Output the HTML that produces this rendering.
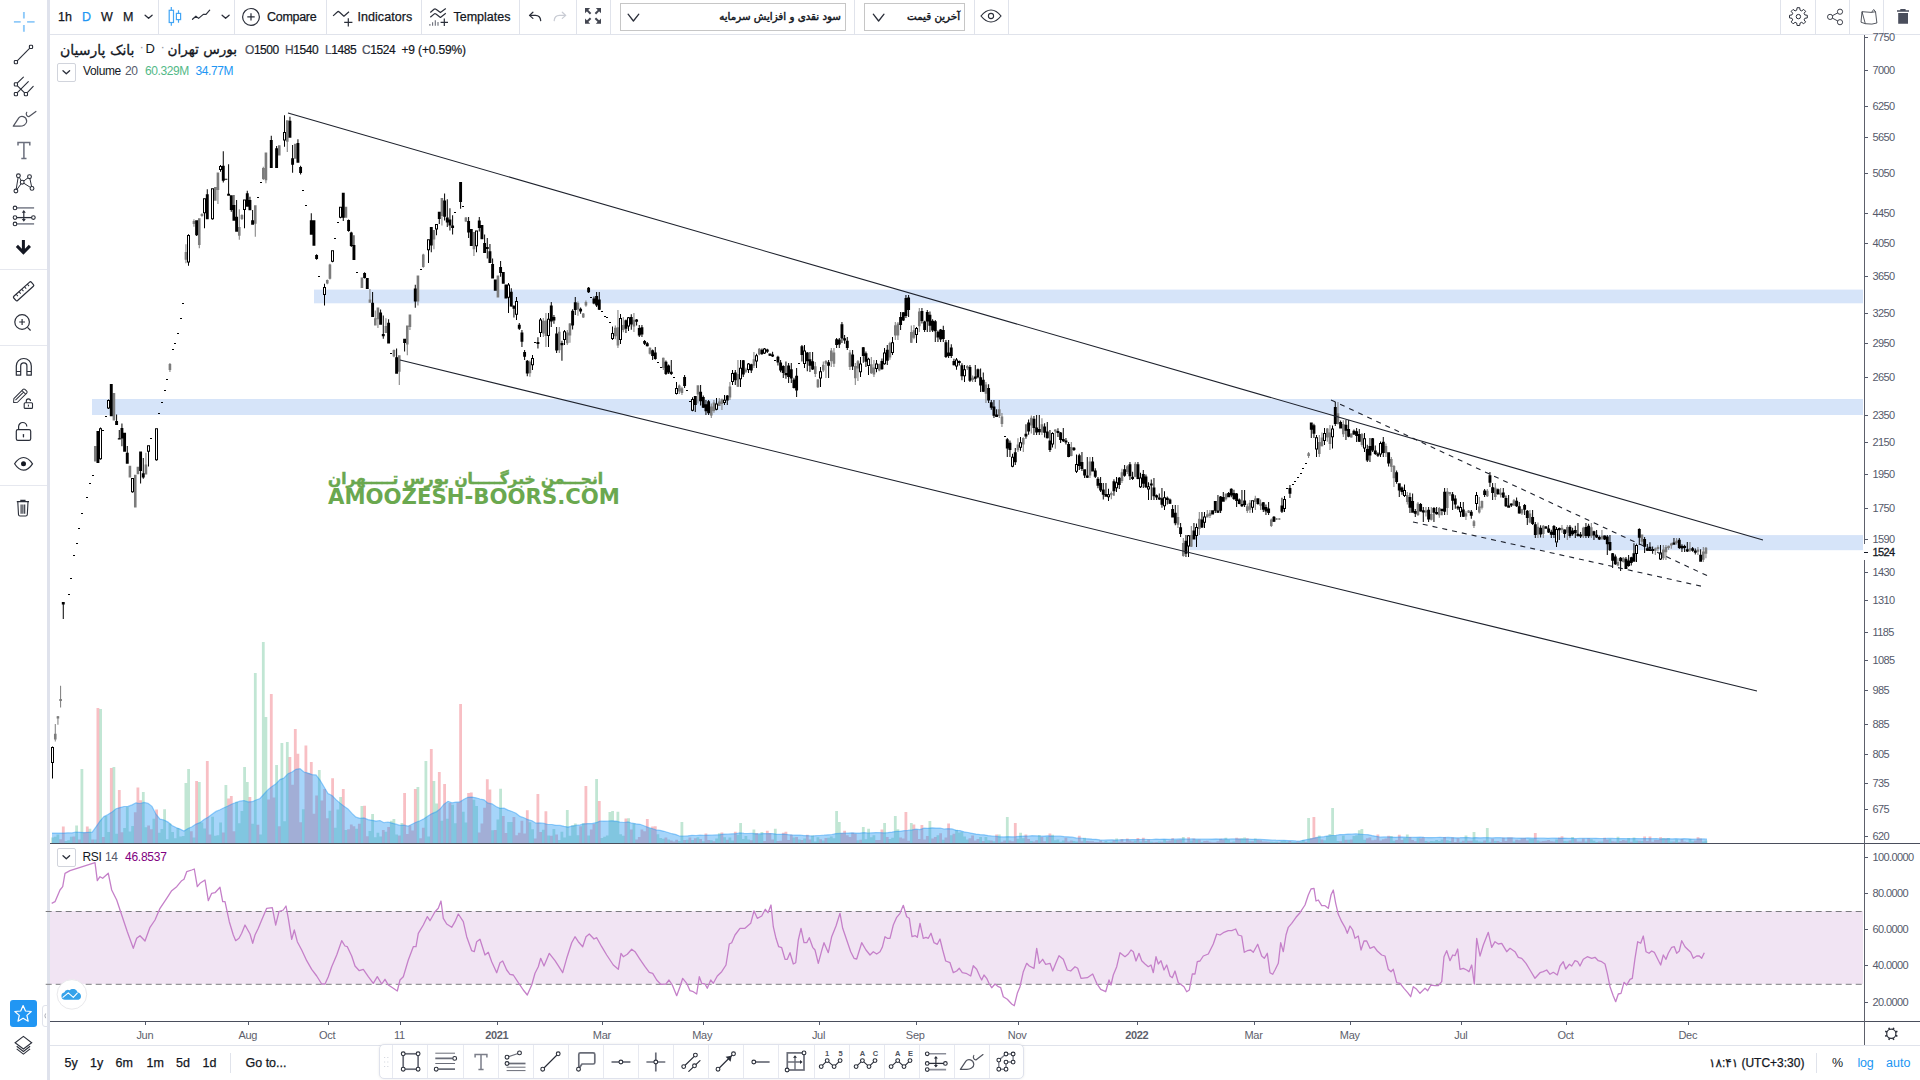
<!DOCTYPE html><html lang="fa"><head><meta charset="utf-8"><title>بانک پارسیان</title><style>
*{box-sizing:border-box;margin:0;padding:0}
html,body{width:1920px;height:1080px;overflow:hidden;background:#fff}
body{font-family:"Liberation Sans","DejaVu Sans",sans-serif;color:#131722;position:relative}
#app{position:absolute;left:0;top:0;width:1920px;height:1080px;overflow:hidden;background:#fff}
.abs{position:absolute}
.t{position:absolute;white-space:nowrap;line-height:1}
.sep{position:absolute;top:0;width:1px;height:34px;background:#e0e3eb}
.tb{font-size:12.5px;top:10.7px;color:#131722;-webkit-text-stroke:0.25px #131722}
.fa{font-family:"DejaVu Sans","Liberation Sans",sans-serif}
svg{position:absolute;left:0;top:0;overflow:visible}
.ic{fill:none;stroke:#2a2e39;stroke-width:1.1;stroke-linecap:round;stroke-linejoin:round}
.ax{font-size:11px;fill:#555a6b;letter-spacing:-0.6px}
.tx{font-size:11px;fill:#5d606b;text-anchor:middle;letter-spacing:-0.3px}
</style></head><body><div id="app">
<div class="abs" style="left:47px;top:0;width:3px;height:1080px;background:#dfe2ec"></div>
<div class="abs" style="left:50px;top:34px;width:1870px;height:1px;background:#e0e3eb"></div>
<div class="abs" style="left:50px;top:1045px;width:1870px;height:1px;background:#e0e3eb"></div>
<div class="sep" style="left:158px"></div>
<div class="sep" style="left:234px"></div>
<div class="sep" style="left:326px"></div>
<div class="sep" style="left:421px"></div>
<div class="sep" style="left:519px"></div>
<div class="sep" style="left:576px"></div>
<div class="sep" style="left:610px"></div>
<div class="sep" style="left:854px"></div>
<div class="sep" style="left:974px"></div>
<div class="sep" style="left:1008px"></div>
<div class="sep" style="left:1780px"></div>
<div class="sep" style="left:1815px"></div>
<div class="sep" style="left:1849px"></div>
<div class="sep" style="left:1883px"></div>
<div class="t tb" style="left:58px;top:10.7px;">1h</div>
<div class="t tb" style="left:82px;top:10.7px;color:#2196f3;-webkit-text-stroke:0.25px #2196f3">D</div>
<div class="t tb" style="left:101px;top:10.7px;">W</div>
<div class="t tb" style="left:123px;top:10.7px;">M</div>
<div class="t tb" style="left:267px;top:10.7px;letter-spacing:-0.3px">Compare</div>
<div class="t tb" style="left:357.5px;top:10.7px;letter-spacing:0.05px">Indicators</div>
<div class="t tb" style="left:453.5px;top:10.7px;letter-spacing:0px">Templates</div>
<div class="abs" style="left:620px;top:3px;width:226px;height:28px;border:1px solid #c6c6c6"></div>
<div class="abs" style="left:864px;top:3px;width:101px;height:28px;border:1px solid #c6c6c6"></div>
<div class="t fa" style="left:0px;top:9px;left:auto;right:1079px;font-size:10.3px;direction:rtl;top:11px;-webkit-text-stroke:0.45px #131722">سود نقدی و افزایش سرمایه</div>
<div class="t fa" style="left:0px;top:9px;left:auto;right:960px;font-size:10.3px;direction:rtl;top:11px;-webkit-text-stroke:0.45px #131722">آخرین قیمت</div>
<div class="t fa" style="left:0px;top:43px;left:60px;font-size:14px;direction:rtl;-webkit-text-stroke:0.3px #131722">بانک پارسیان</div>
<div class="t " style="left:145.5px;top:42px;font-size:13px">D</div>
<div class="t " style="left:139.5px;top:40px;font-size:13px;color:#9598a1">·</div>
<div class="t " style="left:160.5px;top:40px;font-size:13px;color:#9598a1">·</div>
<div class="t fa" style="left:0px;top:43px;left:167.5px;font-size:13.6px;direction:rtl;-webkit-text-stroke:0.3px #131722">بورس تهران</div>
<div class="t " style="left:245px;top:43.7px;font-size:12px;letter-spacing:-0.45px;-webkit-text-stroke:0.2px #131722"><span style="color:#555a6b">O</span>1500</div>
<div class="t " style="left:285px;top:43.7px;font-size:12px;letter-spacing:-0.45px;-webkit-text-stroke:0.2px #131722"><span style="color:#555a6b">H</span>1540</div>
<div class="t " style="left:325px;top:43.7px;font-size:12px;letter-spacing:-0.45px;-webkit-text-stroke:0.2px #131722"><span style="color:#555a6b">L</span>1485</div>
<div class="t " style="left:362px;top:43.7px;font-size:12px;letter-spacing:-0.45px;-webkit-text-stroke:0.2px #131722"><span style="color:#555a6b">C</span>1524</div>
<div class="t " style="left:401.5px;top:43.7px;font-size:12px;letter-spacing:-0.15px;-webkit-text-stroke:0.2px #131722">+9 (+0.59%)</div>
<div class="abs" style="left:57px;top:63px;width:18.5px;height:18.5px;border:1px solid #d1d4dc;border-radius:2px"></div>
<div class="t " style="left:83px;top:65px;font-size:12px;letter-spacing:-0.35px">Volume</div>
<div class="t " style="left:125px;top:65px;font-size:12px;letter-spacing:-0.35px;color:#555a6b">20</div>
<div class="t " style="left:145px;top:65px;font-size:12px;letter-spacing:-0.4px;color:#53b987">60.329M</div>
<div class="t " style="left:195.5px;top:65px;font-size:12px;letter-spacing:-0.4px;color:#2196f3">34.77M</div>
<div class="abs" style="left:57px;top:848px;width:18.5px;height:18.5px;border:1px solid #d1d4dc;border-radius:2px;background:#fff"></div>
<div class="t " style="left:82.5px;top:851px;font-size:12px;letter-spacing:-0.35px">RSI</div>
<div class="t " style="left:105px;top:851px;font-size:12px;letter-spacing:-0.35px;color:#555a6b">14</div>
<div class="t " style="left:125px;top:851px;font-size:12px;letter-spacing:-0.25px;color:#800080">46.8537</div>
<div class="t tb" style="left:64.5px;top:1056px;top:1057.2px">5y</div>
<div class="t tb" style="left:90px;top:1056px;top:1057.2px">1y</div>
<div class="t tb" style="left:115.5px;top:1056px;top:1057.2px">6m</div>
<div class="t tb" style="left:146.5px;top:1056px;top:1057.2px">1m</div>
<div class="t tb" style="left:176px;top:1056px;top:1057.2px">5d</div>
<div class="t tb" style="left:202.5px;top:1056px;top:1057.2px">1d</div>
<div class="t tb" style="left:245.5px;top:1056px;top:1057.2px">Go to...</div>
<div class="abs" style="left:230px;top:1053px;width:1px;height:20px;background:#e0e3eb"></div>
<div class="abs" style="left:1816px;top:1053px;width:1px;height:20px;background:#e0e3eb"></div>
<div class="t tb" style="left:1709px;top:1056px;top:1057.2px;font-size:12px">۱۸:۴۱ (UTC+3:30)</div>
<div class="t tb" style="left:1832px;top:1056px;top:1057.2px;-webkit-text-stroke:0">%</div>
<div class="t tb" style="left:1857.5px;top:1056px;top:1057.2px;color:#2196f3;-webkit-text-stroke:0;letter-spacing:-0.3px">log</div>
<div class="t tb" style="left:1886px;top:1056px;top:1057.2px;color:#2196f3;-webkit-text-stroke:0">auto</div>
<div class="abs" style="left:379px;top:1044px;width:645px;height:35px;border:1px solid #dfe2ec;border-radius:5px;background:#fff;box-shadow:0 0 3px rgba(0,0,0,0.08)"></div>
<div class="abs" style="left:392.3px;top:1045px;width:1px;height:33px;background:#e7e9f0"></div>
<div class="abs" style="left:427.4px;top:1045px;width:1px;height:33px;background:#e7e9f0"></div>
<div class="abs" style="left:462.5px;top:1045px;width:1px;height:33px;background:#e7e9f0"></div>
<div class="abs" style="left:497.6px;top:1045px;width:1px;height:33px;background:#e7e9f0"></div>
<div class="abs" style="left:532.7px;top:1045px;width:1px;height:33px;background:#e7e9f0"></div>
<div class="abs" style="left:567.8px;top:1045px;width:1px;height:33px;background:#e7e9f0"></div>
<div class="abs" style="left:602.9px;top:1045px;width:1px;height:33px;background:#e7e9f0"></div>
<div class="abs" style="left:638.0px;top:1045px;width:1px;height:33px;background:#e7e9f0"></div>
<div class="abs" style="left:673.1px;top:1045px;width:1px;height:33px;background:#e7e9f0"></div>
<div class="abs" style="left:708.2px;top:1045px;width:1px;height:33px;background:#e7e9f0"></div>
<div class="abs" style="left:743.3px;top:1045px;width:1px;height:33px;background:#e7e9f0"></div>
<div class="abs" style="left:778.4px;top:1045px;width:1px;height:33px;background:#e7e9f0"></div>
<div class="abs" style="left:813.5px;top:1045px;width:1px;height:33px;background:#e7e9f0"></div>
<div class="abs" style="left:848.6px;top:1045px;width:1px;height:33px;background:#e7e9f0"></div>
<div class="abs" style="left:883.7px;top:1045px;width:1px;height:33px;background:#e7e9f0"></div>
<div class="abs" style="left:918.8px;top:1045px;width:1px;height:33px;background:#e7e9f0"></div>
<div class="abs" style="left:953.9px;top:1045px;width:1px;height:33px;background:#e7e9f0"></div>
<div class="abs" style="left:989.0px;top:1045px;width:1px;height:33px;background:#e7e9f0"></div>
<div class="abs" style="left:10px;top:1000px;width:27px;height:27px;border-radius:3px;background:#2196f3"></div>
<div class="abs" style="left:42px;top:1005px;width:6px;height:22px;border:1px solid #e0e3eb;border-radius:3px 0 0 3px;background:#fff"></div>
<div class="abs" style="left:0;top:269px;width:47px;height:1px;background:#e6e8ef"></div>
<div class="abs" style="left:0;top:345px;width:47px;height:1px;background:#e6e8ef"></div>
<div class="abs" style="left:0;top:485px;width:47px;height:1px;background:#e6e8ef"></div>
<svg id="chart" width="1920" height="1080" viewBox="0 0 1920 1080" shape-rendering="crispEdges">
<rect x="314" y="289.6" width="1549" height="13.7" fill="#d6e4f9" shape-rendering="auto"/>
<rect x="92" y="399" width="1771" height="16" fill="#d6e4f9"/>
<rect x="1190" y="535.1" width="673" height="15.1" fill="#d6e4f9" shape-rendering="auto"/>
<rect x="50" y="911" width="1813" height="73" fill="#f1e4f3"/>
<g shape-rendering="auto"><path d="M45.7 911.5H1863M45.7 984.3H1863" stroke="#7c7c80" stroke-width="1" stroke-dasharray="6 4" fill="none"/></g>
<g shape-rendering="auto"><path d="M51.2 843h2.8v-5.5h-2.8zM53.9 843h2.8v-6.2h-2.8zM56.5 843h2.8v-8.6h-2.8zM64.5 843h2.8v-1.9h-2.8zM67.2 843h2.8v-2.7h-2.8zM69.9 843h2.8v-6.3h-2.8zM75.2 843h2.8v-17.4h-2.8zM80.5 843h2.8v-74.0h-2.8zM88.5 843h2.8v-14.2h-2.8zM93.9 843h2.8v-3.5h-2.8zM99.2 843h2.8v-134.0h-2.8zM104.5 843h2.8v-27.0h-2.8zM107.2 843h2.8v-11.0h-2.8zM112.5 843h2.8v-76.0h-2.8zM115.2 843h2.8v-9.2h-2.8zM123.2 843h2.8v-14.9h-2.8zM125.9 843h2.8v-36.3h-2.8zM128.5 843h2.8v-11.6h-2.8zM131.2 843h2.8v-16.9h-2.8zM141.9 843h2.8v-50.9h-2.8zM144.5 843h2.8v-15.7h-2.8zM152.5 843h2.8v-24.2h-2.8zM157.9 843h2.8v-10.3h-2.8zM160.5 843h2.8v-13.9h-2.8zM163.2 843h2.8v-33.7h-2.8zM165.9 843h2.8v-3.8h-2.8zM168.5 843h2.8v-19.4h-2.8zM171.2 843h2.8v-11.1h-2.8zM173.9 843h2.8v-4.8h-2.8zM176.5 843h2.8v-14.9h-2.8zM179.2 843h2.8v-6.4h-2.8zM181.9 843h2.8v-6.9h-2.8zM184.5 843h2.8v-60.0h-2.8zM187.2 843h2.8v-74.0h-2.8zM192.5 843h2.8v-5.6h-2.8zM197.9 843h2.8v-61.0h-2.8zM200.5 843h2.8v-20.4h-2.8zM203.2 843h2.8v-14.6h-2.8zM211.2 843h2.8v-26.3h-2.8zM213.9 843h2.8v-7.3h-2.8zM216.5 843h2.8v-7.8h-2.8zM219.2 843h2.8v-20.5h-2.8zM224.5 843h2.8v-58.0h-2.8zM235.2 843h2.8v-41.2h-2.8zM237.9 843h2.8v-19.7h-2.8zM240.5 843h2.8v-31.9h-2.8zM243.2 843h2.8v-76.0h-2.8zM245.9 843h2.8v-60.9h-2.8zM251.2 843h2.8v-19.2h-2.8zM253.9 843h2.8v-170.0h-2.8zM259.2 843h2.8v-8.5h-2.8zM261.9 843h2.8v-201.0h-2.8zM264.5 843h2.8v-126.0h-2.8zM275.2 843h2.8v-78.0h-2.8zM280.5 843h2.8v-100.0h-2.8zM283.2 843h2.8v-21.8h-2.8zM285.9 843h2.8v-101.0h-2.8zM301.9 843h2.8v-33.8h-2.8zM317.9 843h2.8v-73.0h-2.8zM328.5 843h2.8v-32.3h-2.8zM333.9 843h2.8v-15.2h-2.8zM336.5 843h2.8v-33.4h-2.8zM339.2 843h2.8v-46.0h-2.8zM344.5 843h2.8v-13.1h-2.8zM355.2 843h2.8v-14.2h-2.8zM360.5 843h2.8v-37.0h-2.8zM368.5 843h2.8v-12.1h-2.8zM371.2 843h2.8v-28.9h-2.8zM373.9 843h2.8v-5.7h-2.8zM376.5 843h2.8v-10.2h-2.8zM379.2 843h2.8v-6.4h-2.8zM384.5 843h2.8v-11.2h-2.8zM389.9 843h2.8v-22.3h-2.8zM392.5 843h2.8v-24.1h-2.8zM395.2 843h2.8v-8.6h-2.8zM400.5 843h2.8v-20.1h-2.8zM416.5 843h2.8v-56.0h-2.8zM424.5 843h2.8v-82.0h-2.8zM427.2 843h2.8v-6.5h-2.8zM432.5 843h2.8v-62.0h-2.8zM435.2 843h2.8v-39.6h-2.8zM440.5 843h2.8v-22.2h-2.8zM445.9 843h2.8v-24.2h-2.8zM451.2 843h2.8v-38.3h-2.8zM453.9 843h2.8v-19.8h-2.8zM461.9 843h2.8v-31.2h-2.8zM464.5 843h2.8v-20.6h-2.8zM472.5 843h2.8v-43.3h-2.8zM475.2 843h2.8v-36.9h-2.8zM491.2 843h2.8v-12.7h-2.8zM496.5 843h2.8v-23.4h-2.8zM499.2 843h2.8v-54.3h-2.8zM507.2 843h2.8v-20.9h-2.8zM509.9 843h2.8v-21.0h-2.8zM528.5 843h2.8v-20.7h-2.8zM531.2 843h2.8v-13.7h-2.8zM541.9 843h2.8v-13.3h-2.8zM547.2 843h2.8v-7.5h-2.8zM552.5 843h2.8v-14.0h-2.8zM557.9 843h2.8v-3.0h-2.8zM560.5 843h2.8v-11.3h-2.8zM563.2 843h2.8v-5.4h-2.8zM565.9 843h2.8v-33.0h-2.8zM568.5 843h2.8v-7.3h-2.8zM571.2 843h2.8v-17.7h-2.8zM573.9 843h2.8v-19.4h-2.8zM576.5 843h2.8v-7.8h-2.8zM581.9 843h2.8v-19.8h-2.8zM587.2 843h2.8v-7.4h-2.8zM595.2 843h2.8v-64.0h-2.8zM600.5 843h2.8v-5.1h-2.8zM603.2 843h2.8v-6.2h-2.8zM605.9 843h2.8v-7.5h-2.8zM608.5 843h2.8v-31.1h-2.8zM611.2 843h2.8v-32.0h-2.8zM613.9 843h2.8v-22.1h-2.8zM616.5 843h2.8v-31.3h-2.8zM619.2 843h2.8v-8.7h-2.8zM621.9 843h2.8v-7.2h-2.8zM627.2 843h2.8v-24.7h-2.8zM632.5 843h2.8v-19.4h-2.8zM648.5 843h2.8v-14.8h-2.8zM656.5 843h2.8v-8.7h-2.8zM659.2 843h2.8v-5.0h-2.8zM661.9 843h2.8v-4.3h-2.8zM667.2 843h2.8v-3.5h-2.8zM677.9 843h2.8v-1.9h-2.8zM680.5 843h2.8v-21.0h-2.8zM685.9 843h2.8v-3.3h-2.8zM691.2 843h2.8v-2.9h-2.8zM696.5 843h2.8v-5.7h-2.8zM701.9 843h2.8v-1.7h-2.8zM709.9 843h2.8v-2.8h-2.8zM715.2 843h2.8v-4.6h-2.8zM717.9 843h2.8v-9.7h-2.8zM723.2 843h2.8v-5.8h-2.8zM728.5 843h2.8v-5.6h-2.8zM731.2 843h2.8v-2.5h-2.8zM736.5 843h2.8v-8.3h-2.8zM739.2 843h2.8v-20.0h-2.8zM741.9 843h2.8v-3.9h-2.8zM744.5 843h2.8v-6.9h-2.8zM747.2 843h2.8v-3.4h-2.8zM752.5 843h2.8v-13.6h-2.8zM757.9 843h2.8v-8.6h-2.8zM760.5 843h2.8v-11.1h-2.8zM773.9 843h2.8v-14.2h-2.8zM792.5 843h2.8v-5.6h-2.8zM797.9 843h2.8v-3.4h-2.8zM803.2 843h2.8v-4.6h-2.8zM811.2 843h2.8v-7.4h-2.8zM813.9 843h2.8v-1.4h-2.8zM816.5 843h2.8v-5.7h-2.8zM821.9 843h2.8v-2.5h-2.8zM827.2 843h2.8v-5.3h-2.8zM829.9 843h2.8v-6.5h-2.8zM832.5 843h2.8v-4.7h-2.8zM835.2 843h2.8v-32.0h-2.8zM837.9 843h2.8v-21.0h-2.8zM856.5 843h2.8v-2.8h-2.8zM861.9 843h2.8v-16.0h-2.8zM864.5 843h2.8v-3.7h-2.8zM867.2 843h2.8v-14.3h-2.8zM869.9 843h2.8v-5.7h-2.8zM872.5 843h2.8v-7.8h-2.8zM883.2 843h2.8v-20.0h-2.8zM888.5 843h2.8v-4.1h-2.8zM891.2 843h2.8v-5.2h-2.8zM893.9 843h2.8v-27.0h-2.8zM896.5 843h2.8v-13.8h-2.8zM909.9 843h2.8v-20.0h-2.8zM928.5 843h2.8v-22.0h-2.8zM936.5 843h2.8v-7.7h-2.8zM941.9 843h2.8v-3.3h-2.8zM949.9 843h2.8v-7.8h-2.8zM955.2 843h2.8v-13.3h-2.8zM957.9 843h2.8v-10.5h-2.8zM960.5 843h2.8v-11.0h-2.8zM963.2 843h2.8v-6.5h-2.8zM965.9 843h2.8v-3.6h-2.8zM979.2 843h2.8v-5.9h-2.8zM984.5 843h2.8v-6.0h-2.8zM987.2 843h2.8v-2.7h-2.8zM992.5 843h2.8v-1.8h-2.8zM997.9 843h2.8v-8.5h-2.8zM1005.9 843h2.8v-26.0h-2.8zM1016.5 843h2.8v-4.3h-2.8zM1019.2 843h2.8v-10.2h-2.8zM1021.9 843h2.8v-4.8h-2.8zM1029.9 843h2.8v-2.1h-2.8zM1037.9 843h2.8v-7.9h-2.8zM1045.9 843h2.8v-6.0h-2.8zM1051.2 843h2.8v-8.3h-2.8zM1053.9 843h2.8v-2.7h-2.8zM1056.5 843h2.8v-3.5h-2.8zM1059.2 843h2.8v-1.3h-2.8zM1061.9 843h2.8v-2.4h-2.8zM1072.5 843h2.8v-1.9h-2.8zM1075.2 843h2.8v-1.6h-2.8zM1083.2 843h2.8v-5.3h-2.8zM1104.5 843h2.8v-2.1h-2.8zM1107.2 843h2.8v-0.8h-2.8zM1109.9 843h2.8v-1.3h-2.8zM1115.2 843h2.8v-4.6h-2.8zM1133.9 843h2.8v-2.3h-2.8zM1139.2 843h2.8v-1.6h-2.8zM1144.5 843h2.8v-2.1h-2.8zM1149.9 843h2.8v-1.2h-2.8zM1157.9 843h2.8v-1.5h-2.8zM1163.2 843h2.8v-3.2h-2.8zM1173.9 843h2.8v-3.0h-2.8zM1181.9 843h2.8v-5.9h-2.8zM1189.9 843h2.8v-2.6h-2.8zM1195.2 843h2.8v-3.3h-2.8zM1200.5 843h2.8v-0.9h-2.8zM1224.5 843h2.8v-5.3h-2.8zM1227.2 843h2.8v-3.4h-2.8zM1232.5 843h2.8v-1.6h-2.8zM1240.5 843h2.8v-4.8h-2.8zM1243.2 843h2.8v-5.5h-2.8zM1248.5 843h2.8v-1.7h-2.8zM1253.9 843h2.8v-4.6h-2.8zM1269.9 843h2.8v-1.3h-2.8zM1272.5 843h2.8v-0.9h-2.8zM1275.2 843h2.8v-1.2h-2.8zM1280.5 843h2.8v-2.0h-2.8zM1283.2 843h2.8v-2.2h-2.8zM1285.9 843h2.8v-1.5h-2.8zM1291.2 843h2.8v-0.9h-2.8zM1293.9 843h2.8v-1.1h-2.8zM1299.2 843h2.8v-1.4h-2.8zM1301.9 843h2.8v-2.9h-2.8zM1307.2 843h2.8v-25.0h-2.8zM1317.9 843h2.8v-7.5h-2.8zM1323.2 843h2.8v-2.7h-2.8zM1325.9 843h2.8v-7.1h-2.8zM1328.5 843h2.8v-8.9h-2.8zM1331.2 843h2.8v-35.0h-2.8zM1333.9 843h2.8v-7.6h-2.8zM1336.5 843h2.8v-1.9h-2.8zM1341.9 843h2.8v-7.3h-2.8zM1347.2 843h2.8v-3.3h-2.8zM1352.5 843h2.8v-7.0h-2.8zM1355.2 843h2.8v-7.8h-2.8zM1357.9 843h2.8v-12.7h-2.8zM1360.5 843h2.8v-14.0h-2.8zM1363.2 843h2.8v-3.2h-2.8zM1389.9 843h2.8v-7.1h-2.8zM1392.6 843h2.8v-2.3h-2.8zM1403.2 843h2.8v-5.0h-2.8zM1405.9 843h2.8v-8.6h-2.8zM1416.6 843h2.8v-4.9h-2.8zM1424.6 843h2.8v-2.1h-2.8zM1429.9 843h2.8v-2.0h-2.8zM1432.6 843h2.8v-1.7h-2.8zM1435.2 843h2.8v-3.1h-2.8zM1437.9 843h2.8v-2.1h-2.8zM1440.6 843h2.8v-3.6h-2.8zM1445.9 843h2.8v-2.8h-2.8zM1448.6 843h2.8v-2.0h-2.8zM1459.2 843h2.8v-1.2h-2.8zM1464.6 843h2.8v-7.6h-2.8zM1472.6 843h2.8v-11.0h-2.8zM1475.2 843h2.8v-2.6h-2.8zM1477.9 843h2.8v-1.5h-2.8zM1480.6 843h2.8v-1.2h-2.8zM1485.9 843h2.8v-15.0h-2.8zM1488.6 843h2.8v-1.3h-2.8zM1493.9 843h2.8v-2.0h-2.8zM1512.6 843h2.8v-1.5h-2.8zM1528.6 843h2.8v-4.1h-2.8zM1531.2 843h2.8v-4.1h-2.8zM1536.6 843h2.8v-2.5h-2.8zM1555.2 843h2.8v-3.4h-2.8zM1563.2 843h2.8v-2.0h-2.8zM1565.9 843h2.8v-1.7h-2.8zM1571.2 843h2.8v-6.1h-2.8zM1584.6 843h2.8v-1.5h-2.8zM1589.9 843h2.8v-3.8h-2.8zM1592.6 843h2.8v-2.2h-2.8zM1595.2 843h2.8v-1.1h-2.8zM1600.6 843h2.8v-1.4h-2.8zM1608.6 843h2.8v-4.2h-2.8zM1616.6 843h2.8v-6.2h-2.8zM1627.2 843h2.8v-4.9h-2.8zM1632.6 843h2.8v-5.5h-2.8zM1635.2 843h2.8v-2.4h-2.8zM1640.6 843h2.8v-2.0h-2.8zM1661.9 843h2.8v-5.0h-2.8zM1667.2 843h2.8v-5.0h-2.8zM1669.9 843h2.8v-1.6h-2.8zM1675.2 843h2.8v-3.5h-2.8zM1688.6 843h2.8v-4.0h-2.8zM1691.2 843h2.8v-1.4h-2.8zM1701.9 843h2.8v-1.6h-2.8zM1704.6 843h2.8v-2.6h-2.8z" fill="rgba(83,185,135,0.36)"/><path d="M59.2 843h2.8v-3.7h-2.8zM61.9 843h2.8v-16.4h-2.8zM72.5 843h2.8v-6.6h-2.8zM77.9 843h2.8v-3.5h-2.8zM83.2 843h2.8v-10.6h-2.8zM85.9 843h2.8v-16.4h-2.8zM91.2 843h2.8v-3.5h-2.8zM96.5 843h2.8v-135.0h-2.8zM101.9 843h2.8v-5.9h-2.8zM109.9 843h2.8v-75.0h-2.8zM117.9 843h2.8v-53.0h-2.8zM120.5 843h2.8v-10.8h-2.8zM133.9 843h2.8v-30.8h-2.8zM136.5 843h2.8v-55.4h-2.8zM139.2 843h2.8v-42.7h-2.8zM147.2 843h2.8v-17.5h-2.8zM149.9 843h2.8v-13.8h-2.8zM155.2 843h2.8v-33.6h-2.8zM189.9 843h2.8v-11.8h-2.8zM195.2 843h2.8v-62.0h-2.8zM205.9 843h2.8v-82.0h-2.8zM208.5 843h2.8v-8.4h-2.8zM221.9 843h2.8v-10.6h-2.8zM227.2 843h2.8v-44.6h-2.8zM229.9 843h2.8v-47.0h-2.8zM232.5 843h2.8v-11.7h-2.8zM248.5 843h2.8v-45.9h-2.8zM256.5 843h2.8v-18.2h-2.8zM267.2 843h2.8v-43.4h-2.8zM269.9 843h2.8v-149.0h-2.8zM272.5 843h2.8v-45.6h-2.8zM277.9 843h2.8v-16.7h-2.8zM288.5 843h2.8v-86.0h-2.8zM291.2 843h2.8v-58.3h-2.8zM293.9 843h2.8v-114.0h-2.8zM296.5 843h2.8v-89.3h-2.8zM299.2 843h2.8v-20.8h-2.8zM304.5 843h2.8v-97.4h-2.8zM307.2 843h2.8v-69.9h-2.8zM309.9 843h2.8v-81.0h-2.8zM312.5 843h2.8v-29.3h-2.8zM315.2 843h2.8v-47.5h-2.8zM320.5 843h2.8v-42.6h-2.8zM323.2 843h2.8v-54.0h-2.8zM325.9 843h2.8v-24.7h-2.8zM331.2 843h2.8v-64.7h-2.8zM341.9 843h2.8v-54.0h-2.8zM347.2 843h2.8v-13.8h-2.8zM349.9 843h2.8v-18.4h-2.8zM352.5 843h2.8v-16.7h-2.8zM357.9 843h2.8v-19.3h-2.8zM363.2 843h2.8v-37.2h-2.8zM365.9 843h2.8v-6.7h-2.8zM381.9 843h2.8v-12.9h-2.8zM387.2 843h2.8v-16.0h-2.8zM397.9 843h2.8v-7.4h-2.8zM403.2 843h2.8v-50.0h-2.8zM405.9 843h2.8v-9.0h-2.8zM408.5 843h2.8v-17.4h-2.8zM411.2 843h2.8v-12.6h-2.8zM413.9 843h2.8v-54.0h-2.8zM419.2 843h2.8v-4.7h-2.8zM421.9 843h2.8v-15.3h-2.8zM429.9 843h2.8v-94.0h-2.8zM437.9 843h2.8v-71.0h-2.8zM443.2 843h2.8v-59.0h-2.8zM448.5 843h2.8v-40.0h-2.8zM456.5 843h2.8v-40.4h-2.8zM459.2 843h2.8v-139.0h-2.8zM467.2 843h2.8v-50.0h-2.8zM469.9 843h2.8v-50.4h-2.8zM477.9 843h2.8v-10.6h-2.8zM480.5 843h2.8v-19.6h-2.8zM483.2 843h2.8v-35.3h-2.8zM485.9 843h2.8v-63.8h-2.8zM488.5 843h2.8v-53.6h-2.8zM493.9 843h2.8v-12.9h-2.8zM501.9 843h2.8v-27.1h-2.8zM504.5 843h2.8v-10.1h-2.8zM512.5 843h2.8v-25.9h-2.8zM515.2 843h2.8v-7.8h-2.8zM517.9 843h2.8v-10.2h-2.8zM520.5 843h2.8v-22.2h-2.8zM523.2 843h2.8v-9.4h-2.8zM525.9 843h2.8v-32.7h-2.8zM533.9 843h2.8v-4.4h-2.8zM536.5 843h2.8v-49.0h-2.8zM539.2 843h2.8v-11.1h-2.8zM544.5 843h2.8v-31.7h-2.8zM549.9 843h2.8v-7.2h-2.8zM555.2 843h2.8v-8.6h-2.8zM579.2 843h2.8v-16.8h-2.8zM584.5 843h2.8v-57.0h-2.8zM589.9 843h2.8v-13.4h-2.8zM592.5 843h2.8v-19.0h-2.8zM597.9 843h2.8v-42.0h-2.8zM624.5 843h2.8v-24.5h-2.8zM629.9 843h2.8v-13.5h-2.8zM635.2 843h2.8v-3.5h-2.8zM637.9 843h2.8v-6.1h-2.8zM640.5 843h2.8v-13.5h-2.8zM643.2 843h2.8v-11.7h-2.8zM645.9 843h2.8v-24.1h-2.8zM651.2 843h2.8v-16.6h-2.8zM653.9 843h2.8v-16.8h-2.8zM664.5 843h2.8v-5.6h-2.8zM669.9 843h2.8v-2.6h-2.8zM672.5 843h2.8v-1.6h-2.8zM675.2 843h2.8v-3.2h-2.8zM683.2 843h2.8v-2.9h-2.8zM688.5 843h2.8v-5.6h-2.8zM693.9 843h2.8v-4.7h-2.8zM699.2 843h2.8v-4.0h-2.8zM704.5 843h2.8v-9.5h-2.8zM707.2 843h2.8v-2.9h-2.8zM712.5 843h2.8v-1.8h-2.8zM720.5 843h2.8v-10.6h-2.8zM725.9 843h2.8v-3.2h-2.8zM733.9 843h2.8v-11.3h-2.8zM749.9 843h2.8v-2.7h-2.8zM755.2 843h2.8v-9.9h-2.8zM763.2 843h2.8v-2.0h-2.8zM765.9 843h2.8v-12.3h-2.8zM768.5 843h2.8v-10.1h-2.8zM771.2 843h2.8v-3.4h-2.8zM776.5 843h2.8v-2.1h-2.8zM779.2 843h2.8v-2.3h-2.8zM781.9 843h2.8v-10.2h-2.8zM784.5 843h2.8v-11.3h-2.8zM787.2 843h2.8v-3.0h-2.8zM789.9 843h2.8v-8.3h-2.8zM795.2 843h2.8v-5.9h-2.8zM800.5 843h2.8v-3.1h-2.8zM805.9 843h2.8v-8.3h-2.8zM808.5 843h2.8v-3.4h-2.8zM819.2 843h2.8v-3.7h-2.8zM824.5 843h2.8v-4.9h-2.8zM840.5 843h2.8v-10.1h-2.8zM843.2 843h2.8v-12.2h-2.8zM845.9 843h2.8v-7.8h-2.8zM848.5 843h2.8v-6.1h-2.8zM851.2 843h2.8v-10.3h-2.8zM853.9 843h2.8v-9.3h-2.8zM859.2 843h2.8v-3.3h-2.8zM875.2 843h2.8v-3.0h-2.8zM877.9 843h2.8v-3.0h-2.8zM880.5 843h2.8v-13.6h-2.8zM885.9 843h2.8v-5.9h-2.8zM899.2 843h2.8v-5.6h-2.8zM901.9 843h2.8v-4.4h-2.8zM904.5 843h2.8v-31.0h-2.8zM907.2 843h2.8v-2.3h-2.8zM912.5 843h2.8v-18.4h-2.8zM915.2 843h2.8v-13.4h-2.8zM917.9 843h2.8v-4.0h-2.8zM920.5 843h2.8v-18.0h-2.8zM923.2 843h2.8v-3.6h-2.8zM925.9 843h2.8v-7.1h-2.8zM931.2 843h2.8v-4.4h-2.8zM933.9 843h2.8v-6.0h-2.8zM939.2 843h2.8v-9.8h-2.8zM944.5 843h2.8v-5.5h-2.8zM947.2 843h2.8v-19.4h-2.8zM952.5 843h2.8v-9.2h-2.8zM968.5 843h2.8v-4.7h-2.8zM971.2 843h2.8v-7.5h-2.8zM973.9 843h2.8v-2.6h-2.8zM976.5 843h2.8v-3.9h-2.8zM981.9 843h2.8v-2.1h-2.8zM989.9 843h2.8v-2.5h-2.8zM995.2 843h2.8v-8.6h-2.8zM1000.5 843h2.8v-1.3h-2.8zM1003.2 843h2.8v-2.6h-2.8zM1008.5 843h2.8v-2.6h-2.8zM1011.2 843h2.8v-1.8h-2.8zM1013.9 843h2.8v-20.0h-2.8zM1024.5 843h2.8v-8.6h-2.8zM1027.2 843h2.8v-3.9h-2.8zM1032.5 843h2.8v-1.6h-2.8zM1035.2 843h2.8v-2.7h-2.8zM1040.5 843h2.8v-5.9h-2.8zM1043.2 843h2.8v-1.8h-2.8zM1048.5 843h2.8v-9.4h-2.8zM1064.5 843h2.8v-5.2h-2.8zM1067.2 843h2.8v-1.4h-2.8zM1069.9 843h2.8v-2.6h-2.8zM1077.9 843h2.8v-7.2h-2.8zM1080.5 843h2.8v-1.8h-2.8zM1085.9 843h2.8v-2.1h-2.8zM1088.5 843h2.8v-1.7h-2.8zM1091.2 843h2.8v-1.8h-2.8zM1093.9 843h2.8v-0.9h-2.8zM1096.5 843h2.8v-1.1h-2.8zM1099.2 843h2.8v-2.5h-2.8zM1101.9 843h2.8v-0.8h-2.8zM1112.5 843h2.8v-2.7h-2.8zM1117.9 843h2.8v-1.5h-2.8zM1120.5 843h2.8v-3.9h-2.8zM1123.2 843h2.8v-1.0h-2.8zM1125.9 843h2.8v-4.6h-2.8zM1128.5 843h2.8v-2.6h-2.8zM1131.2 843h2.8v-1.4h-2.8zM1136.5 843h2.8v-4.9h-2.8zM1141.9 843h2.8v-5.3h-2.8zM1147.2 843h2.8v-3.5h-2.8zM1152.5 843h2.8v-0.8h-2.8zM1155.2 843h2.8v-1.0h-2.8zM1160.5 843h2.8v-1.3h-2.8zM1165.9 843h2.8v-1.8h-2.8zM1168.5 843h2.8v-2.5h-2.8zM1171.2 843h2.8v-4.7h-2.8zM1176.5 843h2.8v-3.2h-2.8zM1179.2 843h2.8v-3.4h-2.8zM1184.5 843h2.8v-0.8h-2.8zM1187.2 843h2.8v-5.7h-2.8zM1192.5 843h2.8v-4.6h-2.8zM1197.9 843h2.8v-3.6h-2.8zM1203.2 843h2.8v-1.9h-2.8zM1205.9 843h2.8v-2.3h-2.8zM1208.5 843h2.8v-1.3h-2.8zM1211.2 843h2.8v-0.8h-2.8zM1213.9 843h2.8v-0.8h-2.8zM1216.5 843h2.8v-1.7h-2.8zM1219.2 843h2.8v-4.3h-2.8zM1221.9 843h2.8v-3.4h-2.8zM1229.9 843h2.8v-0.8h-2.8zM1235.2 843h2.8v-5.2h-2.8zM1237.9 843h2.8v-4.5h-2.8zM1245.9 843h2.8v-4.7h-2.8zM1251.2 843h2.8v-1.8h-2.8zM1256.5 843h2.8v-3.2h-2.8zM1259.2 843h2.8v-2.7h-2.8zM1261.9 843h2.8v-1.4h-2.8zM1264.5 843h2.8v-1.4h-2.8zM1267.2 843h2.8v-1.3h-2.8zM1277.9 843h2.8v-0.8h-2.8zM1288.5 843h2.8v-2.0h-2.8zM1296.5 843h2.8v-1.5h-2.8zM1304.5 843h2.8v-1.3h-2.8zM1309.9 843h2.8v-5.1h-2.8zM1312.5 843h2.8v-26.0h-2.8zM1315.2 843h2.8v-5.7h-2.8zM1320.5 843h2.8v-3.4h-2.8zM1339.2 843h2.8v-1.8h-2.8zM1344.5 843h2.8v-3.2h-2.8zM1349.9 843h2.8v-3.4h-2.8zM1365.9 843h2.8v-4.8h-2.8zM1368.5 843h2.8v-5.5h-2.8zM1371.2 843h2.8v-2.7h-2.8zM1373.9 843h2.8v-3.2h-2.8zM1376.5 843h2.8v-8.5h-2.8zM1379.2 843h2.8v-2.5h-2.8zM1381.9 843h2.8v-3.8h-2.8zM1384.5 843h2.8v-4.6h-2.8zM1387.2 843h2.8v-7.2h-2.8zM1395.2 843h2.8v-3.0h-2.8zM1397.9 843h2.8v-8.2h-2.8zM1400.6 843h2.8v-3.0h-2.8zM1408.6 843h2.8v-5.9h-2.8zM1411.2 843h2.8v-3.0h-2.8zM1413.9 843h2.8v-1.7h-2.8zM1419.2 843h2.8v-4.7h-2.8zM1421.9 843h2.8v-5.7h-2.8zM1427.2 843h2.8v-1.3h-2.8zM1443.2 843h2.8v-6.0h-2.8zM1451.2 843h2.8v-5.5h-2.8zM1453.9 843h2.8v-1.0h-2.8zM1456.6 843h2.8v-4.8h-2.8zM1461.9 843h2.8v-2.2h-2.8zM1467.2 843h2.8v-2.2h-2.8zM1469.9 843h2.8v-2.3h-2.8zM1483.2 843h2.8v-2.6h-2.8zM1491.2 843h2.8v-4.3h-2.8zM1496.6 843h2.8v-2.0h-2.8zM1499.2 843h2.8v-0.9h-2.8zM1501.9 843h2.8v-5.3h-2.8zM1504.6 843h2.8v-2.1h-2.8zM1507.2 843h2.8v-5.5h-2.8zM1509.9 843h2.8v-5.5h-2.8zM1515.2 843h2.8v-3.3h-2.8zM1517.9 843h2.8v-2.8h-2.8zM1520.6 843h2.8v-4.8h-2.8zM1523.2 843h2.8v-5.1h-2.8zM1525.9 843h2.8v-2.5h-2.8zM1533.9 843h2.8v-10.0h-2.8zM1539.2 843h2.8v-1.5h-2.8zM1541.9 843h2.8v-1.9h-2.8zM1544.6 843h2.8v-2.3h-2.8zM1547.2 843h2.8v-3.0h-2.8zM1549.9 843h2.8v-1.7h-2.8zM1552.6 843h2.8v-1.4h-2.8zM1557.9 843h2.8v-5.4h-2.8zM1560.6 843h2.8v-6.8h-2.8zM1568.6 843h2.8v-2.5h-2.8zM1573.9 843h2.8v-4.1h-2.8zM1576.6 843h2.8v-1.5h-2.8zM1579.2 843h2.8v-1.5h-2.8zM1581.9 843h2.8v-4.6h-2.8zM1587.2 843h2.8v-4.7h-2.8zM1597.9 843h2.8v-1.5h-2.8zM1603.2 843h2.8v-5.2h-2.8zM1605.9 843h2.8v-3.4h-2.8zM1611.2 843h2.8v-1.7h-2.8zM1613.9 843h2.8v-1.5h-2.8zM1619.2 843h2.8v-2.0h-2.8zM1621.9 843h2.8v-3.1h-2.8zM1624.6 843h2.8v-2.6h-2.8zM1629.9 843h2.8v-1.3h-2.8zM1637.9 843h2.8v-2.2h-2.8zM1643.2 843h2.8v-6.4h-2.8zM1645.9 843h2.8v-2.0h-2.8zM1648.6 843h2.8v-6.5h-2.8zM1651.2 843h2.8v-1.2h-2.8zM1653.9 843h2.8v-3.3h-2.8zM1656.6 843h2.8v-3.1h-2.8zM1659.2 843h2.8v-5.7h-2.8zM1664.6 843h2.8v-4.5h-2.8zM1672.6 843h2.8v-1.6h-2.8zM1677.9 843h2.8v-0.9h-2.8zM1680.6 843h2.8v-4.1h-2.8zM1683.2 843h2.8v-1.5h-2.8zM1685.9 843h2.8v-1.0h-2.8zM1693.9 843h2.8v-2.5h-2.8zM1696.6 843h2.8v-5.8h-2.8zM1699.2 843h2.8v-4.5h-2.8z" fill="rgba(235,77,92,0.36)"/><path d="M52.0 833.1 L56.0 833.1 L60.0 833.0 L64.0 833.1 L68.0 832.8 L72.0 832.9 L76.0 832.0 L80.0 832.3 L84.0 832.6 L88.0 832.3 L92.0 832.4 L96.0 826.8 L100.0 821.1 L104.0 816.4 L108.0 814.5 L112.0 812.1 L116.0 808.8 L120.0 807.6 L124.0 806.5 L128.0 806.4 L132.0 804.9 L136.0 802.8 L140.0 803.5 L144.0 802.4 L148.0 803.2 L152.0 806.4 L156.0 814.2 L160.0 819.1 L164.0 820.0 L168.0 822.1 L172.0 825.5 L176.0 827.5 L180.0 829.1 L184.0 831.0 L188.0 828.5 L192.0 826.7 L196.0 824.1 L200.0 822.6 L204.0 819.5 L208.0 817.2 L212.0 814.3 L216.0 811.4 L220.0 809.8 L224.0 807.8 L228.0 806.0 L232.0 804.0 L236.0 802.5 L240.0 801.2 L244.0 800.5 L248.0 801.9 L252.0 801.7 L256.0 800.0 L260.0 798.5 L264.0 794.0 L268.0 789.7 L272.0 786.4 L276.0 783.7 L280.0 779.6 L284.0 778.0 L288.0 773.7 L292.0 772.0 L296.0 769.3 L300.0 768.7 L304.0 772.0 L308.0 773.1 L312.0 774.6 L316.0 774.9 L320.0 780.1 L324.0 786.7 L328.0 793.5 L332.0 795.5 L336.0 799.6 L340.0 803.1 L344.0 806.3 L348.0 808.9 L352.0 813.4 L356.0 817.2 L360.0 818.3 L364.0 817.9 L368.0 819.6 L372.0 820.3 L376.0 821.1 L380.0 820.5 L384.0 822.7 L388.0 822.0 L392.0 823.1 L396.0 824.2 L400.0 825.4 L404.0 825.2 L408.0 826.2 L412.0 824.2 L416.0 822.3 L420.0 820.8 L424.0 818.8 L428.0 816.1 L432.0 813.6 L436.0 811.9 L440.0 809.1 L444.0 804.2 L448.0 801.3 L452.0 802.8 L456.0 802.1 L460.0 801.8 L464.0 799.2 L468.0 797.3 L472.0 797.1 L476.0 797.8 L480.0 799.0 L484.0 799.8 L488.0 803.2 L492.0 803.8 L496.0 806.5 L500.0 808.3 L504.0 808.2 L508.0 810.1 L512.0 811.5 L516.0 813.3 L520.0 816.4 L524.0 817.7 L528.0 819.7 L532.0 820.7 L536.0 823.2 L540.0 822.9 L544.0 823.4 L548.0 824.5 L552.0 824.5 L556.0 825.3 L560.0 825.4 L564.0 826.3 L568.0 827.1 L572.0 826.2 L576.0 825.4 L580.0 824.9 L584.0 823.9 L588.0 823.6 L592.0 823.6 L596.0 822.7 L600.0 821.2 L604.0 821.1 L608.0 821.0 L612.0 820.8 L616.0 821.2 L620.0 822.2 L624.0 822.5 L628.0 821.9 L632.0 823.2 L636.0 823.8 L640.0 824.3 L644.0 825.8 L648.0 827.4 L652.0 828.5 L656.0 829.9 L660.0 830.3 L664.0 831.3 L668.0 832.5 L672.0 833.7 L676.0 834.6 L680.0 836.2 L684.0 836.0 L688.0 835.8 L692.0 835.3 L696.0 835.5 L700.0 835.2 L704.0 835.4 L708.0 835.1 L712.0 835.2 L716.0 834.9 L720.0 834.7 L724.0 834.1 L728.0 834.0 L732.0 833.8 L736.0 833.6 L740.0 832.9 L744.0 833.4 L748.0 833.5 L752.0 833.4 L756.0 833.8 L760.0 833.8 L764.0 833.6 L768.0 833.7 L772.0 833.6 L776.0 834.1 L780.0 834.3 L784.0 834.2 L788.0 834.6 L792.0 834.9 L796.0 835.1 L800.0 835.0 L804.0 835.6 L808.0 835.7 L812.0 836.0 L816.0 835.7 L820.0 835.5 L824.0 835.2 L828.0 834.8 L832.0 834.5 L836.0 833.6 L840.0 833.4 L844.0 833.2 L848.0 833.1 L852.0 832.8 L856.0 833.1 L860.0 833.1 L864.0 832.6 L868.0 833.0 L872.0 832.8 L876.0 832.6 L880.0 832.7 L884.0 832.9 L888.0 832.6 L892.0 832.1 L896.0 831.4 L900.0 831.3 L904.0 830.7 L908.0 830.4 L912.0 829.9 L916.0 829.2 L920.0 829.6 L924.0 828.2 L928.0 828.3 L932.0 827.8 L936.0 828.1 L940.0 828.0 L944.0 829.0 L948.0 828.7 L952.0 828.9 L956.0 830.3 L960.0 830.6 L964.0 831.8 L968.0 832.5 L972.0 833.3 L976.0 834.1 L980.0 834.6 L984.0 834.8 L988.0 835.6 L992.0 836.0 L996.0 836.4 L1000.0 836.8 L1004.0 836.9 L1008.0 836.7 L1012.0 836.8 L1016.0 836.7 L1020.0 836.3 L1024.0 836.0 L1028.0 836.2 L1032.0 835.7 L1036.0 835.8 L1040.0 836.0 L1044.0 836.1 L1048.0 835.8 L1052.0 836.1 L1056.0 836.2 L1060.0 836.2 L1064.0 836.6 L1068.0 836.8 L1072.0 837.2 L1076.0 837.9 L1080.0 838.0 L1084.0 838.5 L1088.0 838.8 L1092.0 839.1 L1096.0 839.3 L1100.0 839.9 L1104.0 840.0 L1108.0 839.9 L1112.0 839.8 L1116.0 840.0 L1120.0 839.8 L1124.0 839.7 L1128.0 839.7 L1132.0 839.5 L1136.0 839.6 L1140.0 839.5 L1144.0 839.4 L1148.0 839.5 L1152.0 839.5 L1156.0 839.2 L1160.0 839.3 L1164.0 839.1 L1168.0 839.3 L1172.0 839.2 L1176.0 839.0 L1180.0 838.9 L1184.0 838.9 L1188.0 839.2 L1192.0 838.9 L1196.0 839.0 L1200.0 839.0 L1204.0 839.0 L1208.0 839.0 L1212.0 839.1 L1216.0 838.9 L1220.0 839.1 L1224.0 838.9 L1228.0 839.0 L1232.0 838.9 L1236.0 838.9 L1240.0 839.0 L1244.0 839.0 L1248.0 839.0 L1252.0 839.3 L1256.0 839.4 L1260.0 839.4 L1264.0 839.6 L1268.0 839.8 L1272.0 840.0 L1276.0 840.2 L1280.0 840.3 L1284.0 840.3 L1288.0 840.6 L1292.0 840.7 L1296.0 840.9 L1300.0 841.0 L1304.0 840.2 L1308.0 839.4 L1312.0 838.7 L1316.0 837.7 L1320.0 836.9 L1324.0 836.7 L1328.0 835.9 L1332.0 835.5 L1336.0 835.4 L1340.0 834.5 L1344.0 834.6 L1348.0 834.1 L1352.0 834.0 L1356.0 833.8 L1360.0 834.2 L1364.0 834.5 L1368.0 834.7 L1372.0 835.6 L1376.0 836.3 L1380.0 837.0 L1384.0 836.9 L1388.0 836.9 L1392.0 837.1 L1396.0 837.3 L1400.0 836.9 L1404.0 837.1 L1408.0 837.4 L1412.0 837.4 L1416.0 837.3 L1420.0 837.1 L1424.0 837.4 L1428.0 837.6 L1432.0 837.6 L1436.0 837.5 L1440.0 837.3 L1444.0 837.6 L1448.0 837.4 L1452.0 837.6 L1456.0 837.8 L1460.0 837.7 L1464.0 837.5 L1468.0 837.6 L1472.0 837.9 L1476.0 837.6 L1480.0 837.8 L1484.0 837.7 L1488.0 837.7 L1492.0 837.9 L1496.0 837.7 L1500.0 837.7 L1504.0 837.9 L1508.0 837.8 L1512.0 837.8 L1516.0 838.0 L1520.0 838.1 L1524.0 838.2 L1528.0 837.9 L1532.0 838.1 L1536.0 838.0 L1540.0 838.2 L1544.0 838.2 L1548.0 838.3 L1552.0 838.2 L1556.0 838.1 L1560.0 838.3 L1564.0 838.1 L1568.0 838.3 L1572.0 838.3 L1576.0 838.5 L1580.0 838.4 L1584.0 838.4 L1588.0 838.3 L1592.0 838.4 L1596.0 838.3 L1600.0 838.5 L1604.0 838.5 L1608.0 838.4 L1612.0 838.4 L1616.0 838.5 L1620.0 838.6 L1624.0 838.5 L1628.0 838.7 L1632.0 838.7 L1636.0 838.5 L1640.0 838.7 L1644.0 838.5 L1648.0 838.6 L1652.0 838.7 L1656.0 838.6 L1660.0 838.9 L1664.0 838.8 L1668.0 838.7 L1672.0 838.9 L1676.0 838.7 L1680.0 838.9 L1684.0 838.7 L1688.0 838.8 L1692.0 839.1 L1696.0 839.0 L1700.0 838.9 L1704.0 838.9 L1707.0 839.0 L1707 843 L52 843 Z" fill="rgba(33,150,243,0.4)"/><path d="M52.0 833.1 L56.0 833.1 L60.0 833.0 L64.0 833.1 L68.0 832.8 L72.0 832.9 L76.0 832.0 L80.0 832.3 L84.0 832.6 L88.0 832.3 L92.0 832.4 L96.0 826.8 L100.0 821.1 L104.0 816.4 L108.0 814.5 L112.0 812.1 L116.0 808.8 L120.0 807.6 L124.0 806.5 L128.0 806.4 L132.0 804.9 L136.0 802.8 L140.0 803.5 L144.0 802.4 L148.0 803.2 L152.0 806.4 L156.0 814.2 L160.0 819.1 L164.0 820.0 L168.0 822.1 L172.0 825.5 L176.0 827.5 L180.0 829.1 L184.0 831.0 L188.0 828.5 L192.0 826.7 L196.0 824.1 L200.0 822.6 L204.0 819.5 L208.0 817.2 L212.0 814.3 L216.0 811.4 L220.0 809.8 L224.0 807.8 L228.0 806.0 L232.0 804.0 L236.0 802.5 L240.0 801.2 L244.0 800.5 L248.0 801.9 L252.0 801.7 L256.0 800.0 L260.0 798.5 L264.0 794.0 L268.0 789.7 L272.0 786.4 L276.0 783.7 L280.0 779.6 L284.0 778.0 L288.0 773.7 L292.0 772.0 L296.0 769.3 L300.0 768.7 L304.0 772.0 L308.0 773.1 L312.0 774.6 L316.0 774.9 L320.0 780.1 L324.0 786.7 L328.0 793.5 L332.0 795.5 L336.0 799.6 L340.0 803.1 L344.0 806.3 L348.0 808.9 L352.0 813.4 L356.0 817.2 L360.0 818.3 L364.0 817.9 L368.0 819.6 L372.0 820.3 L376.0 821.1 L380.0 820.5 L384.0 822.7 L388.0 822.0 L392.0 823.1 L396.0 824.2 L400.0 825.4 L404.0 825.2 L408.0 826.2 L412.0 824.2 L416.0 822.3 L420.0 820.8 L424.0 818.8 L428.0 816.1 L432.0 813.6 L436.0 811.9 L440.0 809.1 L444.0 804.2 L448.0 801.3 L452.0 802.8 L456.0 802.1 L460.0 801.8 L464.0 799.2 L468.0 797.3 L472.0 797.1 L476.0 797.8 L480.0 799.0 L484.0 799.8 L488.0 803.2 L492.0 803.8 L496.0 806.5 L500.0 808.3 L504.0 808.2 L508.0 810.1 L512.0 811.5 L516.0 813.3 L520.0 816.4 L524.0 817.7 L528.0 819.7 L532.0 820.7 L536.0 823.2 L540.0 822.9 L544.0 823.4 L548.0 824.5 L552.0 824.5 L556.0 825.3 L560.0 825.4 L564.0 826.3 L568.0 827.1 L572.0 826.2 L576.0 825.4 L580.0 824.9 L584.0 823.9 L588.0 823.6 L592.0 823.6 L596.0 822.7 L600.0 821.2 L604.0 821.1 L608.0 821.0 L612.0 820.8 L616.0 821.2 L620.0 822.2 L624.0 822.5 L628.0 821.9 L632.0 823.2 L636.0 823.8 L640.0 824.3 L644.0 825.8 L648.0 827.4 L652.0 828.5 L656.0 829.9 L660.0 830.3 L664.0 831.3 L668.0 832.5 L672.0 833.7 L676.0 834.6 L680.0 836.2 L684.0 836.0 L688.0 835.8 L692.0 835.3 L696.0 835.5 L700.0 835.2 L704.0 835.4 L708.0 835.1 L712.0 835.2 L716.0 834.9 L720.0 834.7 L724.0 834.1 L728.0 834.0 L732.0 833.8 L736.0 833.6 L740.0 832.9 L744.0 833.4 L748.0 833.5 L752.0 833.4 L756.0 833.8 L760.0 833.8 L764.0 833.6 L768.0 833.7 L772.0 833.6 L776.0 834.1 L780.0 834.3 L784.0 834.2 L788.0 834.6 L792.0 834.9 L796.0 835.1 L800.0 835.0 L804.0 835.6 L808.0 835.7 L812.0 836.0 L816.0 835.7 L820.0 835.5 L824.0 835.2 L828.0 834.8 L832.0 834.5 L836.0 833.6 L840.0 833.4 L844.0 833.2 L848.0 833.1 L852.0 832.8 L856.0 833.1 L860.0 833.1 L864.0 832.6 L868.0 833.0 L872.0 832.8 L876.0 832.6 L880.0 832.7 L884.0 832.9 L888.0 832.6 L892.0 832.1 L896.0 831.4 L900.0 831.3 L904.0 830.7 L908.0 830.4 L912.0 829.9 L916.0 829.2 L920.0 829.6 L924.0 828.2 L928.0 828.3 L932.0 827.8 L936.0 828.1 L940.0 828.0 L944.0 829.0 L948.0 828.7 L952.0 828.9 L956.0 830.3 L960.0 830.6 L964.0 831.8 L968.0 832.5 L972.0 833.3 L976.0 834.1 L980.0 834.6 L984.0 834.8 L988.0 835.6 L992.0 836.0 L996.0 836.4 L1000.0 836.8 L1004.0 836.9 L1008.0 836.7 L1012.0 836.8 L1016.0 836.7 L1020.0 836.3 L1024.0 836.0 L1028.0 836.2 L1032.0 835.7 L1036.0 835.8 L1040.0 836.0 L1044.0 836.1 L1048.0 835.8 L1052.0 836.1 L1056.0 836.2 L1060.0 836.2 L1064.0 836.6 L1068.0 836.8 L1072.0 837.2 L1076.0 837.9 L1080.0 838.0 L1084.0 838.5 L1088.0 838.8 L1092.0 839.1 L1096.0 839.3 L1100.0 839.9 L1104.0 840.0 L1108.0 839.9 L1112.0 839.8 L1116.0 840.0 L1120.0 839.8 L1124.0 839.7 L1128.0 839.7 L1132.0 839.5 L1136.0 839.6 L1140.0 839.5 L1144.0 839.4 L1148.0 839.5 L1152.0 839.5 L1156.0 839.2 L1160.0 839.3 L1164.0 839.1 L1168.0 839.3 L1172.0 839.2 L1176.0 839.0 L1180.0 838.9 L1184.0 838.9 L1188.0 839.2 L1192.0 838.9 L1196.0 839.0 L1200.0 839.0 L1204.0 839.0 L1208.0 839.0 L1212.0 839.1 L1216.0 838.9 L1220.0 839.1 L1224.0 838.9 L1228.0 839.0 L1232.0 838.9 L1236.0 838.9 L1240.0 839.0 L1244.0 839.0 L1248.0 839.0 L1252.0 839.3 L1256.0 839.4 L1260.0 839.4 L1264.0 839.6 L1268.0 839.8 L1272.0 840.0 L1276.0 840.2 L1280.0 840.3 L1284.0 840.3 L1288.0 840.6 L1292.0 840.7 L1296.0 840.9 L1300.0 841.0 L1304.0 840.2 L1308.0 839.4 L1312.0 838.7 L1316.0 837.7 L1320.0 836.9 L1324.0 836.7 L1328.0 835.9 L1332.0 835.5 L1336.0 835.4 L1340.0 834.5 L1344.0 834.6 L1348.0 834.1 L1352.0 834.0 L1356.0 833.8 L1360.0 834.2 L1364.0 834.5 L1368.0 834.7 L1372.0 835.6 L1376.0 836.3 L1380.0 837.0 L1384.0 836.9 L1388.0 836.9 L1392.0 837.1 L1396.0 837.3 L1400.0 836.9 L1404.0 837.1 L1408.0 837.4 L1412.0 837.4 L1416.0 837.3 L1420.0 837.1 L1424.0 837.4 L1428.0 837.6 L1432.0 837.6 L1436.0 837.5 L1440.0 837.3 L1444.0 837.6 L1448.0 837.4 L1452.0 837.6 L1456.0 837.8 L1460.0 837.7 L1464.0 837.5 L1468.0 837.6 L1472.0 837.9 L1476.0 837.6 L1480.0 837.8 L1484.0 837.7 L1488.0 837.7 L1492.0 837.9 L1496.0 837.7 L1500.0 837.7 L1504.0 837.9 L1508.0 837.8 L1512.0 837.8 L1516.0 838.0 L1520.0 838.1 L1524.0 838.2 L1528.0 837.9 L1532.0 838.1 L1536.0 838.0 L1540.0 838.2 L1544.0 838.2 L1548.0 838.3 L1552.0 838.2 L1556.0 838.1 L1560.0 838.3 L1564.0 838.1 L1568.0 838.3 L1572.0 838.3 L1576.0 838.5 L1580.0 838.4 L1584.0 838.4 L1588.0 838.3 L1592.0 838.4 L1596.0 838.3 L1600.0 838.5 L1604.0 838.5 L1608.0 838.4 L1612.0 838.4 L1616.0 838.5 L1620.0 838.6 L1624.0 838.5 L1628.0 838.7 L1632.0 838.7 L1636.0 838.5 L1640.0 838.7 L1644.0 838.5 L1648.0 838.6 L1652.0 838.7 L1656.0 838.6 L1660.0 838.9 L1664.0 838.8 L1668.0 838.7 L1672.0 838.9 L1676.0 838.7 L1680.0 838.9 L1684.0 838.7 L1688.0 838.8 L1692.0 839.1 L1696.0 839.0 L1700.0 838.9 L1704.0 838.9 L1707.0 839.0" fill="none" stroke="rgba(33,150,243,0.45)" stroke-width="1.2"/></g>
<g shape-rendering="geometricPrecision"><path d="M54.77 724.0h1v17.4h-1zM53.97 733.7h2.6v5.8h-2.6zM57.43 716.0h1v8.7h-1zM56.63 716.2h2.6v2.3h-2.6zM60.10 685.8h1v21.8h-1zM59.30 699.0h2.6v2.0h-2.6zM94.77 446.0h1v15.6h-1zM93.97 446.0h2.6v15.6h-2.6zM113.43 393.1h1v27.3h-1zM112.63 393.1h2.6v27.3h-2.6zM129.43 465.7h1v11.7h-1zM128.63 465.7h2.6v11.7h-2.6zM134.77 474.8h1v32.7h-1zM133.97 474.8h2.6v32.7h-2.6zM137.43 466.8h1v7.4h-1zM136.63 466.8h2.6v7.4h-2.6zM145.43 452.8h1v21.8h-1zM144.63 464.4h2.6v10.2h-2.6zM169.43 363.0h1v9.0h-1zM168.63 363.9h2.6v6.0h-2.6zM185.44 244.2h1v19.1h-1zM184.63 252.0h2.6v7.7h-2.6zM193.44 219.2h1v7.5h-1zM192.64 221.0h2.6v3.0h-2.6zM198.77 218.3h1v30.0h-1zM197.97 218.3h2.6v26.7h-2.6zM201.44 213.3h1v3.4h-1zM200.64 214.0h2.6v2.0h-2.6zM214.77 187.0h1v13.8h-1zM213.97 187.0h2.6v13.8h-2.6zM217.44 172.5h1v31.5h-1zM216.64 172.5h2.6v17.5h-2.6zM238.77 209.2h1v30.5h-1zM237.97 227.0h2.6v8.8h-2.6zM241.44 214.2h1v5.8h-1zM240.64 215.0h2.6v4.0h-2.6zM254.77 205.3h1v31.4h-1zM253.97 205.3h2.6v18.4h-2.6zM262.77 166.7h1v13.3h-1zM261.97 168.0h2.6v11.0h-2.6zM265.44 152.5h1v30.8h-1zM264.64 152.5h2.6v27.8h-2.6zM278.77 145.3h1v10.2h-1zM277.97 145.3h2.6v10.2h-2.6zM286.77 120.3h1v31.7h-1zM285.97 120.3h2.6v21.4h-2.6zM294.77 143.7h1v15.0h-1zM293.97 143.7h2.6v15.0h-2.6zM326.77 279.4h1v4.8h-1zM325.97 280.0h2.6v3.5h-2.6zM329.44 263.8h1v15.6h-1zM328.64 264.5h2.6v14.3h-2.6zM345.44 206.8h1v10.9h-1zM344.64 206.8h2.6v10.9h-2.6zM361.44 277.4h1v10.7h-1zM360.64 277.4h2.6v10.7h-2.6zM369.44 289.1h1v13.6h-1zM368.64 299.4h2.6v3.3h-2.6zM374.77 310.5h1v15.0h-1zM373.97 318.3h2.6v7.2h-2.6zM377.44 307.6h1v20.4h-1zM376.64 307.6h2.6v11.6h-2.6zM385.44 318.3h1v14.6h-1zM384.64 326.0h2.6v6.9h-2.6zM393.44 349.4h1v7.8h-1zM392.64 350.0h2.6v6.5h-2.6zM398.77 355.2h1v29.8h-1zM397.97 355.2h2.6v16.6h-2.6zM406.77 325.5h1v29.7h-1zM405.97 325.5h2.6v19.0h-2.6zM409.44 314.4h1v15.6h-1zM408.64 314.4h2.6v12.6h-2.6zM417.44 275.5h1v30.1h-1zM416.64 275.5h2.6v26.1h-2.6zM422.77 253.7h1v14.1h-1zM421.97 254.5h2.6v12.5h-2.6zM433.44 230.0h1v19.3h-1zM432.64 230.0h2.6v9.6h-2.6zM441.44 198.1h1v27.5h-1zM440.64 198.1h2.6v17.8h-2.6zM465.44 217.1h1v4.8h-1zM464.64 217.5h2.6v4.0h-2.6zM473.44 231.9h1v24.0h-1zM472.64 231.9h2.6v17.4h-2.6zM497.44 275.5h1v21.9h-1zM496.64 275.5h2.6v21.9h-2.6zM529.44 360.5h1v16.2h-1zM528.64 361.7h2.6v11.6h-2.6zM542.77 318.0h1v19.0h-1zM541.97 320.7h2.6v12.7h-2.6zM545.44 313.0h1v34.0h-1zM544.64 320.4h2.6v15.5h-2.6zM558.77 327.0h1v26.0h-1zM557.97 331.7h2.6v18.5h-2.6zM566.77 330.0h1v15.0h-1zM565.97 332.6h2.6v10.7h-2.6zM569.44 323.0h1v19.7h-1zM568.64 323.6h2.6v11.9h-2.6zM577.44 301.4h1v14.4h-1zM576.64 303.1h2.6v6.5h-2.6zM582.77 313.0h1v5.0h-1zM581.97 313.4h2.6v4.1h-2.6zM585.44 300.6h1v6.1h-1zM584.64 302.1h2.6v3.3h-2.6zM614.77 325.6h1v13.7h-1zM613.97 327.7h2.6v8.5h-2.6zM617.44 310.0h1v38.0h-1zM616.64 327.2h2.6v18.4h-2.6zM622.77 317.0h1v15.2h-1zM621.97 325.0h2.6v5.1h-2.6zM633.44 313.0h1v19.0h-1zM632.64 319.8h2.6v6.8h-2.6zM649.44 347.2h1v7.3h-1zM648.64 347.8h2.6v6.0h-2.6zM662.77 357.5h1v12.6h-1zM661.97 357.8h2.6v10.3h-2.6zM678.77 384.4h1v9.6h-1zM677.97 385.6h2.6v6.0h-2.6zM681.44 386.7h1v8.3h-1zM680.64 388.3h2.6v4.6h-2.6zM697.44 385.2h1v18.3h-1zM696.64 385.3h2.6v9.3h-2.6zM710.77 403.4h1v14.6h-1zM709.97 406.6h2.6v8.9h-2.6zM713.44 400.0h1v12.7h-1zM712.64 402.4h2.6v8.5h-2.6zM718.78 398.0h1v8.1h-1zM717.98 401.4h2.6v4.7h-2.6zM721.44 398.6h1v11.4h-1zM720.64 399.2h2.6v4.8h-2.6zM729.44 382.0h1v18.0h-1zM728.64 386.6h2.6v10.8h-2.6zM737.44 360.0h1v27.0h-1zM736.64 373.9h2.6v12.8h-2.6zM745.44 367.7h1v5.3h-1zM744.64 369.6h2.6v2.2h-2.6zM753.44 352.0h1v16.0h-1zM752.64 359.3h2.6v6.5h-2.6zM758.78 348.0h1v7.3h-1zM757.98 348.7h2.6v5.9h-2.6zM814.78 362.0h1v15.0h-1zM813.98 366.3h2.6v7.7h-2.6zM817.44 379.0h1v9.0h-1zM816.64 379.4h2.6v7.9h-2.6zM822.78 361.4h1v10.7h-1zM821.98 364.7h2.6v5.9h-2.6zM825.44 360.0h1v18.0h-1zM824.64 361.1h2.6v2.6h-2.6zM830.78 348.0h1v19.0h-1zM829.98 350.4h2.6v10.8h-2.6zM833.44 348.0h1v19.0h-1zM832.64 352.4h2.6v11.3h-2.6zM849.44 350.0h1v20.0h-1zM848.64 352.6h2.6v14.4h-2.6zM854.78 363.0h1v22.0h-1zM853.98 366.0h2.6v12.2h-2.6zM857.44 360.1h1v21.0h-1zM856.64 361.3h2.6v7.3h-2.6zM870.78 357.0h1v16.9h-1zM869.98 364.2h2.6v9.0h-2.6zM873.44 360.0h1v17.0h-1zM872.64 367.4h2.6v7.1h-2.6zM878.78 363.5h1v7.7h-1zM877.98 364.0h2.6v6.6h-2.6zM889.44 341.7h1v18.0h-1zM888.64 343.1h2.6v14.3h-2.6zM894.78 322.0h1v18.0h-1zM893.98 325.3h2.6v10.3h-2.6zM897.44 322.0h1v18.0h-1zM896.64 323.5h2.6v11.9h-2.6zM910.78 325.6h1v17.4h-1zM909.98 332.0h2.6v10.7h-2.6zM913.44 325.0h1v14.2h-1zM912.64 330.2h2.6v7.5h-2.6zM918.78 308.0h1v24.0h-1zM917.98 311.6h2.6v14.6h-2.6zM966.78 365.0h1v5.0h-1zM965.98 366.1h2.6v2.2h-2.6zM972.11 375.5h1v6.5h-1zM971.31 377.8h2.6v2.2h-2.6zM985.45 382.0h1v21.0h-1zM984.65 384.5h2.6v9.2h-2.6zM998.78 400.0h1v18.0h-1zM997.98 409.2h2.6v6.7h-2.6zM1001.45 413.0h1v14.0h-1zM1000.65 416.6h2.6v7.4h-2.6zM1017.45 438.2h1v13.8h-1zM1016.65 444.6h2.6v5.6h-2.6zM1022.78 437.3h1v14.7h-1zM1021.98 438.0h2.6v6.4h-2.6zM1030.78 415.6h1v18.0h-1zM1029.98 417.8h2.6v7.7h-2.6zM1041.45 418.3h1v16.7h-1zM1040.65 424.2h2.6v8.4h-2.6zM1054.78 429.3h1v19.4h-1zM1053.98 429.4h2.6v2.2h-2.6zM1070.78 442.0h1v14.2h-1zM1069.98 447.1h2.6v9.0h-2.6zM1089.45 457.1h1v20.9h-1zM1088.65 461.4h2.6v14.1h-2.6zM1110.78 491.6h1v7.6h-1zM1109.98 492.9h2.6v2.3h-2.6zM1121.45 468.8h1v14.2h-1zM1120.65 472.2h2.6v8.7h-2.6zM1126.78 465.0h1v9.1h-1zM1125.98 466.2h2.6v5.8h-2.6zM1134.78 462.0h1v15.2h-1zM1133.98 463.8h2.6v12.9h-2.6zM1177.45 505.0h1v23.0h-1zM1176.65 517.1h2.6v7.6h-2.6zM1182.78 537.9h1v18.8h-1zM1181.98 543.0h2.6v12.9h-2.6zM1190.78 525.9h1v21.1h-1zM1189.98 535.0h2.6v11.7h-2.6zM1198.78 512.0h1v23.0h-1zM1197.98 518.7h2.6v10.4h-2.6zM1206.78 510.0h1v7.5h-1zM1205.98 514.2h2.6v3.3h-2.6zM1209.45 510.0h1v8.0h-1zM1208.65 512.8h2.6v3.2h-2.6zM1225.45 493.6h1v6.9h-1zM1224.65 493.6h2.6v5.6h-2.6zM1246.78 503.8h1v9.2h-1zM1245.98 506.2h2.6v4.8h-2.6zM1249.45 500.0h1v13.0h-1zM1248.65 502.8h2.6v7.0h-2.6zM1254.78 495.7h1v14.3h-1zM1253.98 498.6h2.6v3.4h-2.6zM1260.12 499.5h1v10.5h-1zM1259.32 503.5h2.6v2.2h-2.6zM1270.78 518.6h1v8.3h-1zM1269.98 519.5h2.6v6.4h-2.6zM1276.12 518.0h1v2.0h-1zM1275.32 518.4h2.6v1.2h-2.6zM1278.78 518.0h1v2.0h-1zM1277.98 518.4h2.6v1.2h-2.6zM1308.12 452.0h1v6.0h-1zM1307.32 453.2h2.6v2.7h-2.6zM1318.78 435.0h1v22.0h-1zM1317.98 442.0h2.6v11.9h-2.6zM1321.45 432.4h1v14.2h-1zM1320.65 437.6h2.6v8.7h-2.6zM1326.78 428.0h1v13.7h-1zM1325.98 428.5h2.6v9.1h-2.6zM1329.45 425.0h1v25.0h-1zM1328.65 432.4h2.6v11.7h-2.6zM1337.45 402.0h1v22.6h-1zM1336.65 413.3h2.6v10.6h-2.6zM1342.78 420.2h1v16.8h-1zM1341.98 424.1h2.6v10.1h-2.6zM1350.78 433.3h1v4.4h-1zM1349.98 433.6h2.6v4.0h-2.6zM1361.45 433.0h1v13.7h-1zM1360.65 434.0h2.6v11.1h-2.6zM1385.45 443.6h1v13.4h-1zM1384.65 445.9h2.6v7.3h-2.6zM1390.78 457.1h1v14.9h-1zM1389.98 459.1h2.6v7.7h-2.6zM1393.45 465.0h1v22.0h-1zM1392.65 465.9h2.6v12.3h-2.6zM1406.78 492.0h1v12.4h-1zM1405.98 495.1h2.6v7.0h-2.6zM1417.45 502.0h1v14.0h-1zM1416.65 503.6h2.6v11.3h-2.6zM1425.45 507.0h1v9.6h-1zM1424.65 510.4h2.6v2.2h-2.6zM1430.78 507.0h1v13.4h-1zM1429.98 513.9h2.6v5.9h-2.6zM1438.78 507.0h1v10.8h-1zM1437.98 507.9h2.6v7.4h-2.6zM1446.78 488.0h1v27.0h-1zM1445.98 491.4h2.6v16.6h-2.6zM1449.45 492.0h1v3.9h-1zM1448.65 492.0h2.6v2.2h-2.6zM1465.45 511.3h1v8.7h-1zM1464.65 513.3h2.6v3.2h-2.6zM1468.12 510.0h1v3.0h-1zM1467.32 510.6h2.6v2.2h-2.6zM1473.45 520.0h1v8.0h-1zM1472.65 521.2h2.6v4.8h-2.6zM1478.78 497.0h1v16.6h-1zM1477.98 506.4h2.6v6.2h-2.6zM1481.45 500.6h1v9.0h-1zM1480.65 501.1h2.6v6.7h-2.6zM1486.78 489.0h1v8.0h-1zM1485.98 490.8h2.6v5.4h-2.6zM1494.78 483.0h1v17.0h-1zM1493.98 487.8h2.6v9.1h-2.6zM1500.12 488.0h1v9.6h-1zM1499.32 492.8h2.6v2.2h-2.6zM1513.45 498.9h1v7.2h-1zM1512.65 500.2h2.6v5.3h-2.6zM1521.45 508.7h1v6.3h-1zM1520.65 509.3h2.6v4.2h-2.6zM1529.45 510.0h1v13.2h-1zM1528.65 513.6h2.6v8.9h-2.6zM1537.45 522.5h1v15.5h-1zM1536.65 526.7h2.6v7.7h-2.6zM1542.79 525.0h1v12.9h-1zM1541.99 525.8h2.6v8.3h-2.6zM1561.45 525.0h1v7.8h-1zM1560.65 527.8h2.6v2.1h-2.6zM1566.79 525.0h1v15.0h-1zM1565.99 527.1h2.6v5.6h-2.6zM1582.79 526.7h1v11.3h-1zM1581.99 527.8h2.6v8.4h-2.6zM1590.79 523.0h1v15.0h-1zM1589.99 527.3h2.6v8.9h-2.6zM1601.45 530.0h1v10.0h-1zM1600.65 535.7h2.6v3.1h-2.6zM1617.45 558.3h1v8.0h-1zM1616.65 561.9h2.6v3.6h-2.6zM1622.79 557.0h1v5.4h-1zM1621.99 557.8h2.6v4.2h-2.6zM1641.45 534.4h1v10.4h-1zM1640.65 534.4h2.6v7.4h-2.6zM1654.79 547.4h1v7.6h-1zM1653.99 548.6h2.6v2.2h-2.6zM1657.45 545.2h1v6.3h-1zM1656.65 546.9h2.6v2.0h-2.6zM1662.79 545.0h1v15.0h-1zM1661.99 549.6h2.6v8.6h-2.6zM1665.45 545.0h1v15.0h-1zM1664.65 546.9h2.6v5.4h-2.6zM1668.12 545.4h1v4.4h-1zM1667.32 545.8h2.6v2.2h-2.6zM1670.79 542.8h1v5.9h-1zM1669.99 543.4h2.6v2.2h-2.6zM1676.12 538.0h1v6.5h-1zM1675.32 540.8h2.6v2.2h-2.6zM1689.45 542.0h1v10.0h-1zM1688.65 548.3h2.6v2.5h-2.6zM1697.45 547.0h1v8.0h-1zM1696.65 549.6h2.6v2.2h-2.6zM1702.79 547.0h1v15.0h-1zM1701.99 551.6h2.6v8.2h-2.6zM1705.45 547.0h1v11.3h-1zM1704.65 547.8h2.6v5.9h-2.6z" fill="#7c7c7c"/><path d="M52.00 746.5h1v0.5h-1zM52.00 763.0h1v15.4h-1zM51.00 747.0h3v16.0h-3zM62.77 602.0h1v17.0h-1zM61.82 602.0h2.9v2.5h-2.9zM68.00 594.0h2v1.0h-2zM70.00 578.0h2v1.0h-2zM73.00 555.0h2v1.0h-2zM76.00 543.0h2v1.0h-2zM78.00 528.0h2v1.0h-2zM81.00 513.0h2v1.0h-2zM86.00 497.0h2v1.0h-2zM89.00 483.0h2v1.0h-2zM92.00 475.0h2v1.0h-2zM97.43 431.0h1v31.9h-1zM96.48 431.0h2.9v31.9h-2.9zM100.00 427.5h1v0.7h-1zM100.00 459.3h1v0.5h-1zM99.00 428.2h3v31.1h-3zM102.00 430.0h2v1.0h-2zM105.00 416.0h2v1.0h-2zM108.00 399.4h1v0.6h-1zM108.00 408.5h1v0.5h-1zM107.00 400.0h3v8.5h-3zM110.77 384.1h1v32.1h-1zM109.82 384.1h2.9v32.1h-2.9zM116.10 414.5h1v10.4h-1zM115.15 421.0h2.9v3.9h-2.9zM118.77 430.1h1v9.5h-1zM117.82 438.3h2.9v1.3h-2.9zM121.43 423.6h1v22.7h-1zM120.48 427.9h2.9v10.6h-2.9zM124.10 432.7h1v19.0h-1zM123.15 432.7h2.9v19.0h-2.9zM126.77 446.0h1v17.8h-1zM125.82 452.8h2.9v11.0h-2.9zM132.00 478.0h1v0.5h-1zM132.00 492.3h1v0.5h-1zM131.00 478.0h3v14.3h-3zM140.10 451.5h1v32.1h-1zM139.15 451.5h2.9v19.4h-2.9zM142.77 458.0h1v20.7h-1zM141.82 473.3h2.9v4.1h-2.9zM148.00 445.3h1v0.5h-1zM148.00 451.7h1v14.7h-1zM147.00 445.3h3v6.4h-3zM150.00 438.0h2v1.0h-2zM156.00 428.2h1v0.5h-1zM156.00 460.3h1v0.5h-1zM155.00 428.2h3v32.1h-3zM158.00 413.0h2v1.0h-2zM161.00 402.0h2v1.0h-2zM164.00 390.0h2v1.0h-2zM166.00 379.0h2v1.0h-2zM172.00 349.0h2v1.0h-2zM174.00 343.0h2v1.0h-2zM177.00 333.0h2v1.0h-2zM180.00 318.0h2v1.0h-2zM182.00 303.0h2v1.0h-2zM188.00 234.2h1v0.8h-1zM188.00 262.5h1v3.3h-1zM187.00 235.0h3v27.5h-3zM196.10 220.3h1v15.7h-1zM195.15 220.3h2.9v15.0h-2.9zM204.00 198.3h1v0.5h-1zM204.00 213.3h1v15.0h-1zM203.00 198.3h3v15.0h-3zM206.77 189.2h1v30.0h-1zM205.82 194.2h2.9v25.0h-2.9zM212.00 188.3h1v0.5h-1zM212.00 219.2h1v0.5h-1zM211.00 188.3h3v30.9h-3zM220.00 165.0h1v1.0h-1zM220.00 170.0h1v1.7h-1zM219.00 166.0h3v4.0h-3zM222.77 151.3h1v31.2h-1zM221.82 165.8h2.9v15.0h-2.9zM225.44 178.7h1v1.0h-1zM224.49 178.7h2.9v1.0h-2.9zM228.10 164.2h1v31.6h-1zM227.15 193.7h2.9v2.1h-2.9zM230.77 195.3h1v16.4h-1zM229.82 195.3h2.9v14.7h-2.9zM233.44 195.0h1v25.8h-1zM232.49 205.0h2.9v15.8h-2.9zM236.10 200.0h1v31.7h-1zM235.15 216.7h2.9v15.0h-2.9zM244.00 199.5h1v0.5h-1zM244.00 210.0h1v18.3h-1zM243.00 199.5h3v10.5h-3zM246.77 190.8h1v15.9h-1zM245.82 193.3h2.9v13.4h-2.9zM249.44 196.7h1v13.6h-1zM248.49 200.0h2.9v10.3h-2.9zM252.10 210.0h1v14.7h-1zM251.15 220.3h2.9v4.4h-2.9zM257.00 197.0h2v1.0h-2zM260.00 182.0h2v1.0h-2zM270.77 135.8h1v32.2h-1zM269.82 140.0h2.9v28.0h-2.9zM276.10 146.0h1v22.0h-1zM275.15 148.3h2.9v19.7h-2.9zM284.00 115.3h1v16.7h-1zM284.00 140.5h1v6.2h-1zM283.00 132.0h3v8.5h-3zM289.44 116.7h1v21.0h-1zM288.49 120.8h2.9v16.9h-2.9zM292.10 145.0h1v27.8h-1zM291.15 158.3h2.9v6.4h-2.9zM297.44 139.2h1v23.6h-1zM296.49 143.0h2.9v19.8h-2.9zM300.10 165.8h1v8.7h-1zM299.15 167.0h2.9v6.0h-2.9zM302.00 190.0h2v1.0h-2zM305.00 205.0h2v1.0h-2zM310.77 213.3h1v21.4h-1zM309.82 220.3h2.9v14.4h-2.9zM313.44 220.3h1v25.5h-1zM312.49 220.3h2.9v25.5h-2.9zM316.10 254.2h1v5.5h-1zM315.15 255.0h2.9v4.0h-2.9zM318.00 276.0h2v1.0h-2zM324.00 283.8h1v3.3h-1zM324.00 294.9h1v10.7h-1zM323.00 287.1h3v7.8h-3zM332.00 250.2h1v0.5h-1zM332.00 261.8h1v0.5h-1zM331.00 250.2h3v11.6h-3zM334.00 238.0h2v1.0h-2zM337.00 222.0h2v1.0h-2zM340.00 206.8h1v0.5h-1zM340.00 217.7h1v0.5h-1zM339.00 206.8h3v10.9h-3zM342.77 192.8h1v28.2h-1zM341.82 192.8h2.9v24.9h-2.9zM348.10 219.6h1v12.1h-1zM347.15 220.0h2.9v11.0h-2.9zM350.77 231.7h1v15.2h-1zM349.82 232.5h2.9v13.5h-2.9zM353.44 235.2h1v24.7h-1zM352.49 244.9h2.9v15.0h-2.9zM356.00 272.0h2v1.0h-2zM364.10 272.2h1v6.2h-1zM363.15 273.0h2.9v5.0h-2.9zM366.77 278.0h1v11.1h-1zM365.82 278.0h2.9v11.1h-2.9zM372.10 292.0h1v24.9h-1zM371.15 302.7h2.9v14.2h-2.9zM380.10 309.5h1v15.2h-1zM379.15 312.4h2.9v12.3h-2.9zM382.77 315.4h1v23.3h-1zM381.82 334.0h2.9v2.2h-2.9zM388.10 319.2h1v24.4h-1zM387.15 322.7h2.9v20.9h-2.9zM390.00 353.0h2v1.0h-2zM396.10 348.4h1v25.3h-1zM395.15 357.2h2.9v16.5h-2.9zM404.10 338.7h1v12.7h-1zM403.15 338.7h2.9v4.3h-2.9zM414.77 284.8h1v23.0h-1zM413.82 288.5h2.9v13.1h-2.9zM420.00 269.0h2v1.0h-2zM428.00 239.3h1v0.5h-1zM428.00 250.3h1v12.7h-1zM427.00 239.3h3v11.0h-3zM430.77 227.0h1v25.2h-1zM429.82 227.0h2.9v18.6h-2.9zM436.00 224.1h1v0.5h-1zM436.00 229.6h1v5.6h-1zM435.00 224.1h3v5.5h-3zM438.77 211.8h1v12.3h-1zM437.82 211.8h2.9v7.1h-2.9zM444.10 193.4h1v27.0h-1zM443.15 200.4h2.9v16.3h-2.9zM446.77 199.3h1v27.7h-1zM445.82 217.4h2.9v5.2h-2.9zM449.44 208.2h1v22.2h-1zM448.49 219.6h2.9v6.0h-2.9zM452.11 215.2h1v19.2h-1zM451.16 225.6h2.9v2.5h-2.9zM454.00 212.0h2v1.0h-2zM460.11 182.1h1v26.7h-1zM459.16 182.1h2.9v19.8h-2.9zM462.00 206.0h2v1.0h-2zM468.11 217.1h1v20.8h-1zM467.16 221.1h2.9v11.4h-2.9zM470.77 229.0h1v16.9h-1zM469.82 229.0h2.9v16.9h-2.9zM476.00 230.4h1v0.5h-1zM476.00 246.3h1v5.9h-1zM475.00 230.4h3v15.9h-3zM478.77 217.1h1v14.4h-1zM477.82 220.4h2.9v7.7h-2.9zM481.44 225.1h1v14.2h-1zM480.49 225.1h2.9v14.2h-2.9zM484.11 234.4h1v18.6h-1zM483.16 242.9h2.9v10.1h-2.9zM486.77 238.1h1v20.5h-1zM485.82 247.0h2.9v2.0h-2.9zM489.44 244.0h1v19.0h-1zM488.49 251.2h2.9v11.8h-2.9zM492.11 258.6h1v19.8h-1zM491.16 264.1h2.9v14.3h-2.9zM494.77 279.6h1v11.1h-1zM493.82 279.6h2.9v11.1h-2.9zM500.11 261.1h1v15.6h-1zM499.16 267.0h2.9v6.0h-2.9zM502.77 271.9h1v11.9h-1zM501.82 271.9h2.9v11.9h-2.9zM505.44 284.4h1v14.2h-1zM504.49 284.4h2.9v14.2h-2.9zM508.00 283.0h1v1.6h-1zM508.00 297.8h1v15.2h-1zM507.00 284.6h3v13.2h-3zM510.77 288.2h1v18.6h-1zM509.82 291.7h2.9v14.9h-2.9zM513.44 305.1h1v12.3h-1zM512.49 306.0h2.9v2.8h-2.9zM516.00 297.0h1v4.0h-1zM516.00 314.6h1v5.4h-1zM515.00 301.0h3v13.7h-3zM518.77 323.0h1v7.0h-1zM517.82 324.8h2.9v3.9h-2.9zM521.44 330.0h1v17.0h-1zM520.49 332.6h2.9v9.2h-2.9zM524.11 350.0h1v10.0h-1zM523.16 352.1h2.9v4.6h-2.9zM526.77 360.0h1v16.3h-1zM525.82 360.7h2.9v12.7h-2.9zM532.00 355.0h1v2.9h-1zM532.00 365.3h1v4.7h-1zM531.00 357.9h3v7.4h-3zM534.00 342.0h2v1.0h-2zM537.44 337.2h1v11.2h-1zM536.49 341.9h2.9v2.2h-2.9zM540.00 318.0h1v1.6h-1zM540.00 333.0h1v4.0h-1zM539.00 319.6h3v13.4h-3zM548.00 313.0h1v5.8h-1zM548.00 335.9h1v11.1h-1zM547.00 318.8h3v17.1h-3zM550.77 302.0h1v25.0h-1zM549.82 305.5h2.9v16.1h-2.9zM553.44 315.1h1v8.6h-1zM552.49 317.1h2.9v3.4h-2.9zM556.11 327.0h1v26.0h-1zM555.16 333.5h2.9v17.1h-2.9zM561.44 340.8h1v19.9h-1zM560.49 343.1h2.9v2.2h-2.9zM564.00 330.0h1v1.3h-1zM564.00 340.1h1v4.9h-1zM563.00 331.3h3v8.8h-3zM572.11 309.2h1v20.2h-1zM571.16 310.7h2.9v14.9h-2.9zM574.77 297.0h1v18.0h-1zM573.82 302.3h2.9v7.7h-2.9zM580.11 307.5h1v6.3h-1zM579.16 308.7h2.9v2.8h-2.9zM588.11 287.0h1v6.0h-1zM587.16 287.8h2.9v4.4h-2.9zM590.00 297.0h2v1.0h-2zM593.44 296.4h1v7.8h-1zM592.49 298.4h2.9v5.0h-2.9zM596.11 292.0h1v15.1h-1zM595.16 296.0h2.9v9.5h-2.9zM598.77 292.0h1v18.0h-1zM597.82 299.6h2.9v10.1h-2.9zM601.00 311.0h2v1.0h-2zM604.00 316.0h2v1.0h-2zM606.00 317.0h2v1.0h-2zM609.00 322.0h2v1.0h-2zM612.00 326.4h1v6.5h-1zM612.00 339.0h1v1.0h-1zM611.00 332.9h3v6.1h-3zM620.00 314.0h1v4.1h-1zM620.00 339.9h1v4.2h-1zM619.00 318.1h3v21.8h-3zM625.44 319.4h1v13.6h-1zM624.49 320.2h2.9v8.6h-2.9zM628.00 317.1h1v0.5h-1zM628.00 326.5h1v4.5h-1zM627.00 317.3h3v9.2h-3zM630.77 314.3h1v15.5h-1zM629.82 317.1h2.9v7.4h-2.9zM636.11 319.1h1v6.4h-1zM635.16 319.6h2.9v2.2h-2.9zM638.77 325.0h1v12.0h-1zM637.82 327.9h2.9v7.6h-2.9zM641.44 325.0h1v12.0h-1zM640.49 327.2h2.9v7.2h-2.9zM644.11 340.0h1v5.0h-1zM643.16 340.9h2.9v2.9h-2.9zM646.77 342.1h1v4.3h-1zM645.82 343.3h2.9v3.0h-2.9zM652.11 349.4h1v10.6h-1zM651.16 350.2h2.9v5.7h-2.9zM654.77 347.0h1v12.7h-1zM653.82 352.4h2.9v6.7h-2.9zM657.00 362.0h2v1.0h-2zM660.00 367.0h2v1.0h-2zM665.44 360.6h1v14.4h-1zM664.49 361.8h2.9v12.3h-2.9zM668.11 364.5h1v9.5h-1zM667.16 365.4h2.9v7.2h-2.9zM670.77 360.0h1v15.0h-1zM669.82 371.8h2.9v2.2h-2.9zM673.00 377.0h2v1.0h-2zM676.00 382.0h1v6.0h-1zM676.00 393.9h1v0.5h-1zM675.00 388.0h3v5.9h-3zM684.11 375.0h1v13.0h-1zM683.16 377.0h2.9v9.1h-2.9zM686.00 390.0h2v1.0h-2zM689.00 401.0h2v1.0h-2zM692.00 397.2h1v1.7h-1zM692.00 410.7h1v0.5h-1zM691.00 398.9h3v11.8h-3zM694.77 395.9h1v16.1h-1zM693.82 395.9h2.9v9.2h-2.9zM700.11 385.0h1v20.6h-1zM699.16 391.7h2.9v9.5h-2.9zM702.77 395.4h1v12.5h-1zM701.82 397.1h2.9v10.6h-2.9zM705.44 400.0h1v15.0h-1zM704.49 404.3h2.9v7.0h-2.9zM708.11 400.0h1v15.0h-1zM707.16 401.3h2.9v11.9h-2.9zM716.00 398.0h1v5.5h-1zM716.00 409.7h1v0.5h-1zM715.00 403.5h3v6.2h-3zM724.00 395.1h1v4.6h-1zM724.00 403.0h1v2.0h-1zM723.00 399.7h3v3.2h-3zM726.78 395.0h1v10.0h-1zM725.83 395.6h2.9v4.8h-2.9zM732.00 370.0h1v3.0h-1zM732.00 381.9h1v3.1h-1zM731.00 373.0h3v8.9h-3zM734.78 370.0h1v15.0h-1zM733.83 372.4h2.9v7.9h-2.9zM740.00 360.0h1v7.8h-1zM740.00 379.2h1v7.8h-1zM739.00 367.8h3v11.4h-3zM742.78 360.0h1v16.9h-1zM741.83 360.3h2.9v14.3h-2.9zM748.00 363.0h1v0.6h-1zM748.00 370.1h1v2.9h-1zM747.00 363.6h3v6.5h-3zM750.78 363.8h1v9.2h-1zM749.83 364.2h2.9v6.3h-2.9zM756.00 353.8h1v1.5h-1zM756.00 361.5h1v6.5h-1zM755.00 355.3h3v6.1h-3zM761.44 348.4h1v6.7h-1zM760.49 349.7h2.9v4.2h-2.9zM764.00 348.0h1v0.6h-1zM764.00 353.5h1v0.5h-1zM763.00 348.6h3v4.9h-3zM766.78 348.8h1v4.1h-1zM765.83 349.5h2.9v2.2h-2.9zM769.44 353.5h1v2.4h-1zM768.49 353.6h2.9v2.1h-2.9zM772.11 351.8h1v5.2h-1zM771.16 354.4h2.9v2.2h-2.9zM774.00 360.0h2v1.0h-2zM777.44 355.8h1v9.7h-1zM776.49 356.7h2.9v5.7h-2.9zM780.11 360.0h1v12.3h-1zM779.16 362.5h2.9v8.1h-2.9zM782.78 365.3h1v12.7h-1zM781.83 365.9h2.9v7.0h-2.9zM785.44 361.4h1v17.3h-1zM784.49 373.1h2.9v2.2h-2.9zM788.11 363.0h1v20.0h-1zM787.16 365.6h2.9v11.3h-2.9zM790.78 363.0h1v20.0h-1zM789.83 369.2h2.9v9.2h-2.9zM793.44 377.7h1v10.7h-1zM792.49 379.4h2.9v8.7h-2.9zM796.11 368.0h1v29.0h-1zM795.16 375.7h2.9v14.9h-2.9zM798.00 363.0h2v1.0h-2zM801.44 345.0h1v16.4h-1zM800.49 346.2h2.9v8.8h-2.9zM804.00 345.0h1v5.4h-1zM804.00 363.9h1v4.1h-1zM803.00 350.4h3v13.5h-3zM806.78 352.1h1v19.1h-1zM805.83 352.6h2.9v8.6h-2.9zM809.44 352.0h1v20.0h-1zM808.49 359.2h2.9v6.6h-2.9zM812.11 352.0h1v18.1h-1zM811.16 361.2h2.9v8.4h-2.9zM820.00 367.0h1v4.3h-1zM820.00 378.4h1v8.6h-1zM819.00 371.3h3v7.1h-3zM828.11 360.0h1v18.0h-1zM827.16 362.2h2.9v3.5h-2.9zM836.11 338.0h1v10.0h-1zM835.16 339.3h2.9v5.8h-2.9zM838.78 338.0h1v10.0h-1zM837.83 339.6h2.9v4.8h-2.9zM841.44 322.0h1v21.0h-1zM840.49 324.2h2.9v14.2h-2.9zM844.11 335.1h1v8.6h-1zM843.16 338.2h2.9v2.2h-2.9zM846.78 337.0h1v13.0h-1zM845.83 340.8h2.9v7.1h-2.9zM852.11 350.0h1v20.0h-1zM851.16 354.5h2.9v12.1h-2.9zM860.00 357.0h1v6.5h-1zM860.00 372.1h1v4.9h-1zM859.00 363.5h3v8.7h-3zM862.78 347.0h1v15.8h-1zM861.83 347.3h2.9v8.6h-2.9zM865.44 351.6h1v15.4h-1zM864.49 353.2h2.9v8.6h-2.9zM868.00 357.8h1v1.0h-1zM868.00 366.2h1v8.8h-1zM867.00 358.8h3v7.3h-3zM876.00 360.0h1v3.5h-1zM876.00 368.9h1v3.3h-1zM875.00 363.5h3v5.5h-3zM881.44 358.6h1v11.1h-1zM880.49 361.1h2.9v8.1h-2.9zM884.00 347.9h1v4.7h-1zM884.00 364.2h1v0.5h-1zM883.00 352.6h3v11.6h-3zM886.78 345.0h1v20.0h-1zM885.83 349.7h2.9v11.0h-2.9zM892.00 337.0h1v5.2h-1zM892.00 353.0h1v2.0h-1zM891.00 342.2h3v10.8h-3zM900.11 312.0h1v18.0h-1zM899.16 317.0h2.9v8.1h-2.9zM902.78 312.1h1v8.9h-1zM901.83 312.3h2.9v8.1h-2.9zM905.44 295.0h1v23.0h-1zM904.49 298.0h2.9v18.0h-2.9zM908.11 295.0h1v22.0h-1zM907.16 297.5h2.9v12.5h-2.9zM916.00 327.1h1v1.0h-1zM916.00 334.9h1v8.1h-1zM915.00 328.1h3v6.8h-3zM921.44 308.0h1v15.6h-1zM920.49 310.9h2.9v10.1h-2.9zM924.11 320.8h1v11.2h-1zM923.16 321.5h2.9v8.4h-2.9zM926.78 310.0h1v22.0h-1zM925.83 312.1h2.9v9.3h-2.9zM929.44 311.6h1v20.4h-1zM928.49 314.8h2.9v11.0h-2.9zM932.11 319.3h1v12.7h-1zM931.16 320.8h2.9v9.7h-2.9zM934.78 320.0h1v22.0h-1zM933.83 321.3h2.9v10.0h-2.9zM937.44 330.4h1v11.6h-1zM936.49 331.8h2.9v5.8h-2.9zM940.11 328.9h1v13.1h-1zM939.16 329.6h2.9v9.8h-2.9zM942.78 325.8h1v16.2h-1zM941.83 330.1h2.9v8.8h-2.9zM945.44 340.0h1v18.0h-1zM944.49 342.2h2.9v14.8h-2.9zM948.11 340.0h1v18.0h-1zM947.16 352.5h2.9v3.4h-2.9zM950.78 344.2h1v13.8h-1zM949.83 347.5h2.9v8.4h-2.9zM953.44 358.7h1v6.8h-1zM952.49 360.9h2.9v4.3h-2.9zM956.00 358.0h1v1.4h-1zM956.00 366.5h1v3.3h-1zM955.00 359.4h3v7.0h-3zM958.78 360.6h1v4.9h-1zM957.83 360.9h2.9v2.2h-2.9zM961.44 363.2h1v17.0h-1zM960.49 365.2h2.9v11.1h-2.9zM964.00 365.0h1v4.3h-1zM964.00 376.3h1v5.7h-1zM963.00 369.3h3v7.0h-3zM969.44 365.0h1v17.0h-1zM968.49 367.0h2.9v13.7h-2.9zM974.78 365.0h1v17.0h-1zM973.83 376.5h2.9v2.2h-2.9zM977.44 368.4h1v9.8h-1zM976.49 369.3h2.9v8.0h-2.9zM980.11 368.5h1v23.5h-1zM979.16 377.3h2.9v8.1h-2.9zM982.78 372.4h1v19.6h-1zM981.83 379.8h2.9v11.9h-2.9zM988.11 384.3h1v18.7h-1zM987.16 388.0h2.9v12.4h-2.9zM990.78 400.0h1v9.7h-1zM989.83 402.2h2.9v5.6h-2.9zM993.45 400.0h1v18.0h-1zM992.50 406.5h2.9v9.3h-2.9zM996.11 409.2h1v7.7h-1zM995.16 414.5h2.9v2.4h-2.9zM1004.00 436.0h2v1.0h-2zM1006.78 438.0h1v19.0h-1zM1005.83 439.2h2.9v9.4h-2.9zM1009.45 440.4h1v16.6h-1zM1008.50 442.7h2.9v7.2h-2.9zM1012.00 453.7h1v3.1h-1zM1012.00 466.7h1v0.5h-1zM1011.00 456.8h3v9.9h-3zM1014.78 448.0h1v17.0h-1zM1013.83 452.3h2.9v10.0h-2.9zM1020.00 437.0h1v5.2h-1zM1020.00 447.7h1v3.1h-1zM1019.00 442.2h3v5.5h-3zM1025.45 424.2h1v14.5h-1zM1024.50 433.7h2.9v2.9h-2.9zM1028.11 419.4h1v15.3h-1zM1027.16 422.4h2.9v9.0h-2.9zM1033.45 415.9h1v19.1h-1zM1032.50 418.7h2.9v9.3h-2.9zM1036.11 415.0h1v20.0h-1zM1035.16 427.6h2.9v4.9h-2.9zM1038.78 415.0h1v20.0h-1zM1037.83 429.1h2.9v3.2h-2.9zM1044.11 423.3h1v14.1h-1zM1043.16 426.5h2.9v6.3h-2.9zM1046.78 422.0h1v16.5h-1zM1045.83 431.4h2.9v6.8h-2.9zM1049.45 430.0h1v22.0h-1zM1048.50 440.6h2.9v9.5h-2.9zM1052.00 432.3h1v0.6h-1zM1052.00 444.6h1v2.9h-1zM1051.00 433.0h3v11.6h-3zM1057.45 428.3h1v8.6h-1zM1056.50 431.1h2.9v2.0h-2.9zM1060.11 431.9h1v11.1h-1zM1059.16 432.4h2.9v7.5h-2.9zM1062.78 428.0h1v14.0h-1zM1061.83 439.0h2.9v2.2h-2.9zM1065.45 438.1h1v6.4h-1zM1064.50 440.4h2.9v2.2h-2.9zM1068.11 442.0h1v15.3h-1zM1067.16 443.9h2.9v13.1h-2.9zM1073.45 447.0h1v4.0h-1zM1072.50 447.7h2.9v2.2h-2.9zM1076.00 454.6h1v9.5h-1zM1076.00 471.8h1v1.1h-1zM1075.00 464.1h3v7.7h-3zM1078.78 453.8h1v16.1h-1zM1077.83 455.2h2.9v10.8h-2.9zM1081.45 452.0h1v19.0h-1zM1080.50 462.0h2.9v7.1h-2.9zM1084.11 469.2h1v8.8h-1zM1083.16 469.3h2.9v6.2h-2.9zM1086.78 457.0h1v21.0h-1zM1085.83 475.5h2.9v2.2h-2.9zM1092.11 457.0h1v14.6h-1zM1091.16 461.4h2.9v10.0h-2.9zM1094.78 468.3h1v9.7h-1zM1093.83 470.6h2.9v6.2h-2.9zM1097.45 477.0h1v11.3h-1zM1096.50 478.7h2.9v7.1h-2.9zM1100.11 477.0h1v15.0h-1zM1099.16 483.1h2.9v7.5h-2.9zM1102.78 483.0h1v16.5h-1zM1101.83 489.6h2.9v5.2h-2.9zM1105.45 483.0h1v13.8h-1zM1104.50 494.0h2.9v2.8h-2.9zM1108.00 488.7h1v5.5h-1zM1108.00 497.3h1v3.7h-1zM1107.00 494.2h3v3.1h-3zM1113.45 479.2h1v16.6h-1zM1112.50 481.2h2.9v10.0h-2.9zM1116.00 477.0h1v5.2h-1zM1116.00 488.3h1v3.7h-1zM1115.00 482.2h3v6.1h-3zM1118.78 477.0h1v12.0h-1zM1117.83 477.7h2.9v7.2h-2.9zM1124.11 465.0h1v11.7h-1zM1123.16 469.3h2.9v6.5h-2.9zM1129.45 462.0h1v18.0h-1zM1128.50 464.2h2.9v12.0h-2.9zM1132.11 471.7h1v8.3h-1zM1131.16 476.8h2.9v2.2h-2.9zM1137.45 462.0h1v17.2h-1zM1136.50 464.2h2.9v14.8h-2.9zM1140.00 472.7h1v4.7h-1zM1140.00 487.2h1v0.8h-1zM1139.00 477.4h3v9.8h-3zM1142.78 470.0h1v18.0h-1zM1141.83 474.1h2.9v9.7h-2.9zM1145.45 474.5h1v13.5h-1zM1144.50 476.5h2.9v10.7h-2.9zM1148.00 482.2h1v4.0h-1zM1148.00 489.3h1v10.7h-1zM1147.00 486.2h3v3.2h-3zM1150.78 479.5h1v20.5h-1zM1149.83 483.4h2.9v2.2h-2.9zM1153.45 478.0h1v22.0h-1zM1152.50 487.4h2.9v8.8h-2.9zM1156.11 494.6h1v5.4h-1zM1155.16 495.2h2.9v2.2h-2.9zM1158.78 493.4h1v6.6h-1zM1157.83 497.4h2.9v2.2h-2.9zM1161.45 488.0h1v19.8h-1zM1160.50 498.2h2.9v6.6h-2.9zM1164.00 491.3h1v5.9h-1zM1164.00 506.3h1v3.7h-1zM1163.00 497.2h3v9.1h-3zM1166.78 496.5h1v8.0h-1zM1165.83 497.7h2.9v2.2h-2.9zM1169.45 498.4h1v5.7h-1zM1168.50 499.4h2.9v4.4h-2.9zM1172.11 505.0h1v12.6h-1zM1171.16 509.0h2.9v8.4h-2.9zM1174.78 505.0h1v20.3h-1zM1173.83 512.7h2.9v10.5h-2.9zM1180.11 523.0h1v14.0h-1zM1179.16 527.2h2.9v6.9h-2.9zM1185.45 535.0h1v22.0h-1zM1184.50 540.7h2.9v13.1h-2.9zM1188.00 535.0h1v0.5h-1zM1188.00 546.4h1v10.6h-1zM1187.00 535.3h3v11.1h-3zM1193.45 523.0h1v16.5h-1zM1192.50 530.6h2.9v8.8h-2.9zM1196.00 523.4h1v3.5h-1zM1196.00 536.1h1v10.9h-1zM1195.00 526.9h3v9.2h-3zM1201.45 512.0h1v16.0h-1zM1200.50 519.6h2.9v7.9h-2.9zM1204.00 512.0h1v4.4h-1zM1204.00 522.8h1v5.2h-1zM1203.00 516.4h3v6.3h-3zM1212.11 510.2h1v4.4h-1zM1211.16 510.3h2.9v4.3h-2.9zM1214.78 501.0h1v12.0h-1zM1213.83 501.0h2.9v9.8h-2.9zM1217.45 495.0h1v18.0h-1zM1216.50 510.5h2.9v2.2h-2.9zM1220.11 496.0h1v17.0h-1zM1219.16 496.5h2.9v14.3h-2.9zM1222.78 492.0h1v9.8h-1zM1221.83 497.0h2.9v4.7h-2.9zM1228.11 492.0h1v5.3h-1zM1227.16 493.0h2.9v4.2h-2.9zM1230.78 488.2h1v9.0h-1zM1229.83 488.8h2.9v6.8h-2.9zM1233.45 489.8h1v10.2h-1zM1232.50 493.1h2.9v6.0h-2.9zM1236.11 493.0h1v14.0h-1zM1235.16 493.6h2.9v7.5h-2.9zM1238.78 498.4h1v5.8h-1zM1237.83 499.4h2.9v4.7h-2.9zM1241.45 490.0h1v17.0h-1zM1240.50 504.1h2.9v2.2h-2.9zM1244.11 490.0h1v17.0h-1zM1243.16 500.5h2.9v4.4h-2.9zM1252.00 500.3h1v0.5h-1zM1252.00 507.8h1v5.0h-1zM1251.00 500.3h3v7.5h-3zM1257.45 498.2h1v6.5h-1zM1256.50 498.3h2.9v5.8h-2.9zM1262.78 502.0h1v10.0h-1zM1261.83 502.3h2.9v7.4h-2.9zM1265.45 504.4h1v10.6h-1zM1264.50 507.0h2.9v4.6h-2.9zM1268.12 502.0h1v13.0h-1zM1267.17 508.5h2.9v4.6h-2.9zM1273.45 516.1h1v5.8h-1zM1272.50 516.8h2.9v5.0h-2.9zM1281.45 497.7h1v15.3h-1zM1280.50 505.4h2.9v6.3h-2.9zM1284.00 496.1h1v3.0h-1zM1284.00 509.1h1v3.0h-1zM1283.00 499.0h3v10.0h-3zM1286.00 488.0h2v1.0h-2zM1289.45 485.0h1v12.9h-1zM1288.50 487.9h2.9v5.8h-2.9zM1292.00 484.0h2v1.0h-2zM1294.00 481.0h2v1.0h-2zM1297.00 477.0h2v1.0h-2zM1300.00 473.0h2v1.0h-2zM1302.00 468.0h2v1.0h-2zM1305.00 463.0h2v1.0h-2zM1310.78 422.4h1v15.6h-1zM1309.83 422.6h2.9v7.1h-2.9zM1313.45 423.8h1v14.2h-1zM1312.50 425.2h2.9v8.6h-2.9zM1316.00 435.0h1v2.2h-1zM1316.00 449.6h1v7.4h-1zM1315.00 437.2h3v12.3h-3zM1324.00 428.0h1v5.1h-1zM1324.00 441.0h1v4.0h-1zM1323.00 433.1h3v8.0h-3zM1332.00 425.6h1v2.8h-1zM1332.00 437.2h1v11.4h-1zM1331.00 428.4h3v8.8h-3zM1334.78 402.0h1v24.0h-1zM1333.83 407.0h2.9v17.0h-2.9zM1340.12 420.4h1v8.2h-1zM1339.17 421.9h2.9v6.6h-2.9zM1345.45 420.0h1v20.0h-1zM1344.50 424.8h2.9v5.9h-2.9zM1348.12 420.0h1v17.3h-1zM1347.17 428.9h2.9v7.8h-2.9zM1353.45 429.4h1v5.6h-1zM1352.50 430.8h2.9v3.7h-2.9zM1356.12 428.1h1v13.9h-1zM1355.17 431.3h2.9v4.7h-2.9zM1358.78 429.1h1v12.9h-1zM1357.83 434.1h2.9v7.6h-2.9zM1364.00 433.0h1v5.2h-1zM1364.00 448.5h1v3.5h-1zM1363.00 438.2h3v10.3h-3zM1366.78 444.8h1v17.2h-1zM1365.83 449.1h2.9v11.5h-2.9zM1369.45 438.0h1v24.0h-1zM1368.50 446.1h2.9v9.3h-2.9zM1372.12 438.0h1v14.1h-1zM1371.17 438.3h2.9v12.3h-2.9zM1374.78 445.5h1v9.5h-1zM1373.83 450.4h2.9v3.7h-2.9zM1377.45 452.2h1v4.8h-1zM1376.50 453.4h2.9v2.4h-2.9zM1380.00 441.4h1v1.6h-1zM1380.00 454.6h1v2.4h-1zM1379.00 443.0h3v11.6h-3zM1382.78 437.0h1v20.0h-1zM1381.83 441.7h2.9v11.3h-2.9zM1388.12 452.3h1v14.3h-1zM1387.17 452.3h2.9v11.1h-2.9zM1396.12 470.5h1v13.2h-1zM1395.17 472.3h2.9v9.6h-2.9zM1398.78 483.3h1v13.7h-1zM1397.83 483.3h2.9v7.2h-2.9zM1401.45 486.6h1v8.2h-1zM1400.50 487.4h2.9v4.6h-2.9zM1404.00 484.6h1v5.5h-1zM1404.00 496.0h1v1.0h-1zM1403.00 490.1h3v5.8h-3zM1409.45 492.8h1v20.2h-1zM1408.50 496.9h2.9v10.8h-2.9zM1412.12 493.5h1v19.3h-1zM1411.17 500.9h2.9v11.8h-2.9zM1414.78 509.1h1v7.9h-1zM1413.83 511.0h2.9v2.8h-2.9zM1420.12 503.0h1v8.8h-1zM1419.17 504.1h2.9v7.4h-2.9zM1422.78 507.0h1v15.0h-1zM1421.83 510.3h2.9v2.2h-2.9zM1428.12 507.0h1v15.0h-1zM1427.17 509.8h2.9v9.7h-2.9zM1433.45 507.0h1v15.0h-1zM1432.50 507.9h2.9v4.9h-2.9zM1436.12 507.0h1v7.7h-1zM1435.17 512.1h2.9v2.2h-2.9zM1441.45 508.8h1v6.4h-1zM1440.50 508.8h2.9v2.2h-2.9zM1444.12 488.0h1v27.0h-1zM1443.17 491.8h2.9v20.0h-2.9zM1452.12 492.0h1v18.0h-1zM1451.17 494.2h2.9v6.5h-2.9zM1454.78 495.2h1v13.6h-1zM1453.83 498.6h2.9v5.8h-2.9zM1457.45 505.5h1v4.5h-1zM1456.50 506.4h2.9v2.2h-2.9zM1460.00 502.0h1v5.1h-1zM1460.00 512.3h1v4.7h-1zM1459.00 507.1h3v5.2h-3zM1462.78 502.0h1v14.9h-1zM1461.83 509.5h2.9v7.2h-2.9zM1470.78 510.0h1v8.7h-1zM1469.83 511.8h2.9v4.0h-2.9zM1476.00 492.0h1v3.0h-1zM1476.00 504.1h1v5.9h-1zM1475.00 495.0h3v9.1h-3zM1484.12 489.0h1v8.0h-1zM1483.17 490.6h2.9v4.5h-2.9zM1489.45 472.0h1v15.0h-1zM1488.50 475.3h2.9v7.5h-2.9zM1492.12 483.0h1v17.0h-1zM1491.17 487.2h2.9v5.9h-2.9zM1497.45 488.6h1v6.3h-1zM1496.50 489.2h2.9v4.8h-2.9zM1502.78 488.0h1v10.0h-1zM1501.83 492.4h2.9v5.0h-2.9zM1505.45 495.5h1v11.5h-1zM1504.50 498.1h2.9v8.2h-2.9zM1508.12 495.0h1v12.0h-1zM1507.17 505.6h2.9v2.2h-2.9zM1510.78 503.3h1v3.7h-1zM1509.83 503.4h2.9v2.2h-2.9zM1516.12 497.4h1v9.6h-1zM1515.17 500.8h2.9v5.5h-2.9zM1518.78 502.0h1v11.7h-1zM1517.83 506.3h2.9v7.3h-2.9zM1524.12 504.1h1v10.9h-1zM1523.17 505.0h2.9v4.7h-2.9zM1526.79 510.0h1v15.0h-1zM1525.84 510.8h2.9v7.2h-2.9zM1532.12 510.1h1v14.9h-1zM1531.17 516.9h2.9v7.2h-2.9zM1534.79 522.0h1v16.0h-1zM1533.84 524.3h2.9v10.6h-2.9zM1540.12 525.3h1v12.1h-1zM1539.17 527.8h2.9v6.6h-2.9zM1545.45 526.0h1v2.8h-1zM1544.50 526.6h2.9v2.2h-2.9zM1548.12 525.0h1v8.1h-1zM1547.17 528.6h2.9v3.9h-2.9zM1550.79 529.7h1v8.3h-1zM1549.84 531.8h2.9v3.0h-2.9zM1553.45 525.0h1v13.0h-1zM1552.50 526.0h2.9v9.1h-2.9zM1556.00 527.0h1v1.9h-1zM1556.00 542.7h1v4.3h-1zM1555.00 528.9h3v13.7h-3zM1558.79 527.4h1v12.6h-1zM1557.84 528.1h2.9v2.2h-2.9zM1564.12 529.2h1v8.6h-1zM1563.17 529.5h2.9v4.6h-2.9zM1569.45 525.0h1v12.8h-1zM1568.50 526.8h2.9v9.1h-2.9zM1572.12 527.8h1v7.9h-1zM1571.17 530.6h2.9v3.6h-2.9zM1574.79 525.8h1v12.2h-1zM1573.84 529.9h2.9v3.4h-2.9zM1577.45 523.0h1v13.7h-1zM1576.50 533.8h2.9v2.2h-2.9zM1580.12 532.0h1v6.0h-1zM1579.17 534.4h2.9v2.2h-2.9zM1585.45 523.0h1v15.0h-1zM1584.50 527.1h2.9v8.8h-2.9zM1588.12 523.7h1v14.3h-1zM1587.17 525.8h2.9v10.4h-2.9zM1593.45 530.7h1v9.3h-1zM1592.50 531.2h2.9v4.4h-2.9zM1596.12 530.0h1v8.0h-1zM1595.17 534.8h2.9v2.7h-2.9zM1598.79 535.4h1v4.6h-1zM1597.84 536.9h2.9v2.5h-2.9zM1604.12 535.2h1v4.8h-1zM1603.17 535.4h2.9v4.0h-2.9zM1606.79 535.0h1v20.0h-1zM1605.84 536.4h2.9v7.8h-2.9zM1609.45 535.0h1v15.9h-1zM1608.50 542.1h2.9v8.1h-2.9zM1612.12 553.0h1v15.0h-1zM1611.17 553.3h2.9v7.4h-2.9zM1614.79 554.5h1v10.5h-1zM1613.84 556.5h2.9v7.7h-2.9zM1620.12 557.0h1v14.0h-1zM1619.17 557.8h2.9v3.4h-2.9zM1625.45 557.0h1v12.1h-1zM1624.50 558.7h2.9v10.3h-2.9zM1628.12 555.0h1v11.7h-1zM1627.17 560.4h2.9v5.7h-2.9zM1630.79 556.8h1v8.6h-1zM1629.84 557.2h2.9v5.7h-2.9zM1633.45 543.3h1v18.4h-1zM1632.50 553.3h2.9v8.4h-2.9zM1636.00 543.8h1v1.0h-1zM1636.00 554.1h1v7.9h-1zM1635.00 544.9h3v9.2h-3zM1638.79 528.3h1v16.7h-1zM1637.84 529.0h2.9v8.7h-2.9zM1644.12 537.0h1v16.0h-1zM1643.17 538.9h2.9v7.9h-2.9zM1646.79 543.9h1v7.1h-1zM1645.84 548.2h2.9v2.5h-2.9zM1649.45 542.2h1v8.9h-1zM1648.50 546.8h2.9v4.3h-2.9zM1652.12 546.6h1v7.1h-1zM1651.17 548.9h2.9v2.2h-2.9zM1660.00 545.0h1v7.4h-1zM1660.00 559.4h1v0.6h-1zM1659.00 552.4h3v7.0h-3zM1673.45 538.0h1v6.7h-1zM1672.50 542.5h2.9v2.2h-2.9zM1678.79 538.0h1v10.9h-1zM1677.84 539.8h2.9v8.2h-2.9zM1681.45 544.3h1v7.7h-1zM1680.50 545.7h2.9v2.7h-2.9zM1684.12 544.7h1v7.3h-1zM1683.17 545.9h2.9v2.2h-2.9zM1686.79 542.0h1v10.0h-1zM1685.84 549.3h2.9v2.2h-2.9zM1692.12 547.0h1v4.7h-1zM1691.17 548.2h2.9v2.5h-2.9zM1694.79 548.6h1v5.8h-1zM1693.84 550.6h2.9v2.2h-2.9zM1700.12 549.2h1v12.5h-1zM1699.17 554.7h2.9v7.0h-2.9z" fill="#000"/><path d="M52.00 748.0h1v14.0h-1zM100.00 429.2h1v29.1h-1zM108.00 401.0h1v6.5h-1zM132.00 479.0h1v12.3h-1zM148.00 446.3h1v4.4h-1zM156.00 429.2h1v30.1h-1zM188.00 236.0h1v25.5h-1zM204.00 199.3h1v13.0h-1zM212.00 189.3h1v28.9h-1zM220.00 167.0h1v2.0h-1zM244.00 200.5h1v8.5h-1zM284.00 133.0h1v6.5h-1zM324.00 288.1h1v5.8h-1zM332.00 251.2h1v9.6h-1zM340.00 207.8h1v8.9h-1zM428.00 240.3h1v9.0h-1zM436.00 225.1h1v3.5h-1zM476.00 231.4h1v13.9h-1zM508.00 285.6h1v11.2h-1zM516.00 302.0h1v11.7h-1zM532.00 358.9h1v5.4h-1zM540.00 320.6h1v11.4h-1zM548.00 319.8h1v15.1h-1zM564.00 332.3h1v6.8h-1zM612.00 333.9h1v4.1h-1zM620.00 319.1h1v19.8h-1zM628.00 318.3h1v7.2h-1zM676.00 389.0h1v3.9h-1zM692.00 399.9h1v9.8h-1zM716.00 404.5h1v4.2h-1zM724.00 400.7h1v1.2h-1zM732.00 374.0h1v6.9h-1zM740.00 368.8h1v9.4h-1zM748.00 364.6h1v4.5h-1zM756.00 356.3h1v4.1h-1zM764.00 349.6h1v2.9h-1zM804.00 351.4h1v11.5h-1zM820.00 372.3h1v5.1h-1zM860.00 364.5h1v6.7h-1zM868.00 359.8h1v5.3h-1zM876.00 364.5h1v3.5h-1zM884.00 353.6h1v9.6h-1zM892.00 343.2h1v8.8h-1zM916.00 329.1h1v4.8h-1zM956.00 360.4h1v5.0h-1zM964.00 370.3h1v5.0h-1zM1012.00 457.8h1v7.9h-1zM1020.00 443.2h1v3.5h-1zM1052.00 434.0h1v9.6h-1zM1076.00 465.1h1v5.7h-1zM1108.00 495.2h1v1.1h-1zM1116.00 483.2h1v4.1h-1zM1140.00 478.4h1v7.8h-1zM1148.00 487.2h1v1.2h-1zM1164.00 498.2h1v7.1h-1zM1188.00 536.3h1v9.1h-1zM1196.00 527.9h1v7.2h-1zM1204.00 517.4h1v4.3h-1zM1252.00 501.3h1v5.5h-1zM1284.00 500.0h1v8.0h-1zM1316.00 438.2h1v10.3h-1zM1324.00 434.1h1v6.0h-1zM1332.00 429.4h1v6.8h-1zM1364.00 439.2h1v8.3h-1zM1380.00 444.0h1v9.6h-1zM1404.00 491.1h1v3.8h-1zM1460.00 508.1h1v3.2h-1zM1476.00 496.0h1v7.1h-1zM1556.00 529.9h1v11.7h-1zM1636.00 545.9h1v7.2h-1zM1660.00 553.4h1v5.0h-1z" fill="#fff"/></g>
<g shape-rendering="auto" stroke="#1e222d" stroke-width="1.1" fill="none">
<path d="M288 113L1763 540M400 360L1757 691"/>
<path d="M1331 400L1710 577M1413 522L1705 587" stroke-dasharray="5 5"/>
</g>
<g shape-rendering="auto"><path d="M51.7 903.3 L55.0 901.7 L60.0 890.0 L62.7 886.7 L65.0 873.3 L70.0 870.7 L95.0 862.7 L97.3 880.7 L100.0 876.7 L102.7 878.3 L108.3 873.3 L111.7 890.0 L116.7 900.0 L121.7 915.0 L127.3 931.7 L133.3 948.3 L136.7 938.3 L140.0 935.7 L145.0 941.0 L150.0 927.3 L155.0 920.0 L160.0 908.3 L166.7 898.3 L171.7 890.7 L176.7 886.7 L181.7 880.7 L184.0 879.3 L186.7 871.7 L191.7 870.0 L194.3 869.0 L197.3 886.7 L200.0 883.3 L205.0 880.0 L208.3 900.7 L211.7 893.3 L215.0 892.7 L220.0 887.3 L222.7 901.7 L225.0 901.7 L229.3 921.7 L233.3 935.0 L235.7 940.7 L239.0 938.3 L241.7 933.3 L245.0 925.0 L250.0 934.0 L252.7 943.3 L255.0 935.0 L258.3 928.3 L261.7 920.0 L266.7 908.3 L272.3 907.7 L275.7 925.0 L279.0 911.7 L283.3 910.0 L286.0 906.0 L288.3 918.3 L291.7 939.3 L294.3 930.0 L297.3 941.7 L301.7 950.0 L306.7 960.7 L311.7 969.3 L316.7 976.0 L321.7 984.0 L325.0 984.0 L328.3 976.7 L331.7 966.7 L336.7 955.0 L341.7 940.7 L345.0 946.0 L347.3 946.7 L351.7 956.0 L355.0 966.0 L359.3 970.7 L363.3 969.3 L368.3 976.7 L373.3 983.3 L377.3 976.7 L381.7 984.0 L385.0 979.3 L388.3 985.0 L393.3 988.3 L397.3 991.0 L400.0 980.0 L403.3 976.7 L408.3 960.0 L413.3 946.7 L416.0 946.7 L418.3 933.3 L423.3 925.0 L427.3 916.7 L430.0 920.7 L435.0 911.7 L438.3 908.3 L441.0 901.0 L443.3 918.3 L446.7 924.0 L451.7 927.3 L455.0 921.7 L458.3 914.0 L463.3 921.7 L466.7 936.7 L471.7 950.7 L474.3 951.7 L476.7 941.7 L480.0 939.3 L485.0 955.0 L488.3 952.3 L491.7 961.7 L496.7 972.7 L500.0 962.7 L502.7 961.0 L506.7 970.0 L510.0 974.3 L513.3 975.0 L518.3 982.7 L523.3 990.0 L527.3 995.0 L531.7 985.0 L535.0 973.3 L538.3 966.7 L540.7 958.3 L544.0 966.0 L549.3 953.3 L555.0 960.7 L560.0 968.3 L562.7 972.7 L566.7 958.3 L571.7 942.7 L575.0 936.7 L578.3 941.7 L582.7 946.7 L586.0 936.7 L589.3 934.0 L594.0 939.0 L596.7 937.7 L601.7 946.7 L606.7 955.0 L613.3 965.0 L618.3 969.3 L621.0 953.3 L623.3 956.7 L627.3 954.3 L631.7 949.3 L635.0 951.7 L640.0 959.3 L645.0 966.7 L649.3 972.3 L652.7 973.3 L656.7 980.0 L660.7 984.3 L666.0 984.0 L669.0 980.0 L672.3 985.0 L676.7 995.7 L680.0 986.7 L682.7 978.3 L686.7 983.3 L690.0 990.7 L693.3 991.7 L696.7 994.0 L699.3 976.7 L701.7 983.3 L705.0 984.0 L707.3 988.3 L710.7 980.0 L713.3 983.3 L717.3 976.0 L721.7 971.7 L726.0 965.0 L729.3 944.0 L731.7 942.7 L735.0 935.0 L740.0 928.3 L745.0 928.3 L750.7 923.3 L754.0 911.0 L757.3 918.3 L761.7 916.0 L765.3 909.3 L768.0 912.7 L771.0 905.0 L773.3 926.7 L776.0 938.3 L778.7 946.7 L781.7 947.7 L785.0 959.3 L787.3 959.3 L790.0 952.7 L793.3 964.0 L795.7 962.7 L798.3 940.0 L801.0 928.3 L804.0 942.7 L806.7 942.7 L809.3 937.7 L812.7 947.3 L815.0 950.0 L818.3 963.3 L821.7 950.7 L824.0 942.7 L828.3 952.7 L831.7 936.7 L836.0 926.0 L840.0 913.3 L842.7 928.3 L846.7 940.0 L850.7 951.7 L854.0 958.3 L856.7 959.0 L861.7 942.7 L866.0 950.0 L870.0 955.0 L873.3 951.7 L876.7 954.0 L880.0 951.7 L882.3 947.3 L885.0 936.7 L887.3 938.3 L890.0 938.3 L893.3 925.0 L896.7 917.3 L900.0 913.3 L903.3 905.3 L906.7 916.7 L909.3 918.3 L912.0 936.7 L915.3 935.7 L917.3 937.3 L920.0 923.3 L923.3 938.3 L926.0 937.3 L928.3 938.3 L931.0 933.3 L934.0 942.7 L937.3 944.3 L940.0 939.0 L942.7 950.0 L945.7 961.0 L950.0 962.7 L953.3 972.7 L956.7 971.0 L959.3 968.3 L962.3 972.7 L966.0 973.3 L970.7 976.0 L973.3 965.7 L976.7 969.3 L980.0 976.7 L981.7 980.0 L984.0 975.0 L986.7 978.3 L989.3 984.0 L991.7 987.7 L995.0 984.0 L998.3 986.7 L1000.7 987.7 L1003.3 996.7 L1007.3 999.3 L1011.7 1004.0 L1014.3 1005.7 L1017.3 993.3 L1020.0 986.7 L1023.3 971.7 L1026.7 963.3 L1029.3 966.0 L1034.0 968.3 L1036.7 948.3 L1039.3 963.3 L1042.7 959.3 L1045.7 964.3 L1050.0 963.3 L1052.7 971.0 L1056.0 962.7 L1059.0 955.7 L1063.3 959.3 L1067.3 970.0 L1070.7 971.0 L1075.0 966.7 L1077.7 968.3 L1081.0 978.3 L1087.3 977.7 L1092.7 974.0 L1096.7 983.3 L1100.7 989.3 L1105.7 991.7 L1109.0 980.0 L1111.0 985.0 L1113.3 975.0 L1116.7 966.7 L1120.0 952.7 L1125.0 956.7 L1128.3 954.0 L1131.0 950.0 L1133.3 951.7 L1136.0 961.0 L1139.0 953.3 L1141.7 960.7 L1145.0 964.0 L1148.3 966.7 L1151.0 965.0 L1153.3 972.7 L1156.0 956.7 L1158.3 964.0 L1161.0 960.7 L1164.0 970.0 L1166.7 965.0 L1170.0 976.0 L1172.3 977.7 L1175.0 971.0 L1178.3 982.7 L1181.7 985.0 L1184.0 986.7 L1186.7 991.7 L1189.3 990.0 L1192.3 974.0 L1195.0 974.0 L1197.3 961.7 L1200.0 961.0 L1203.3 956.0 L1208.3 954.0 L1213.3 944.0 L1216.7 934.0 L1220.0 935.0 L1223.3 932.7 L1228.3 930.7 L1231.7 930.7 L1235.7 929.0 L1238.3 935.0 L1241.7 936.0 L1244.3 952.3 L1247.3 950.7 L1250.7 950.0 L1253.3 952.3 L1257.7 944.3 L1261.7 956.0 L1264.3 958.3 L1267.3 953.3 L1270.0 972.7 L1272.7 974.3 L1275.0 970.0 L1278.3 963.3 L1280.7 942.7 L1283.3 951.7 L1286.0 935.0 L1288.3 927.3 L1291.7 923.3 L1296.0 917.3 L1300.0 912.7 L1305.0 905.0 L1308.3 895.0 L1311.0 889.0 L1314.0 888.3 L1316.0 901.0 L1318.3 900.0 L1321.7 905.7 L1325.0 905.7 L1328.3 908.3 L1331.0 895.0 L1333.3 890.0 L1335.7 903.3 L1338.3 914.3 L1341.7 921.7 L1345.0 927.3 L1347.3 933.3 L1350.0 926.0 L1352.7 930.0 L1355.0 938.3 L1358.3 936.0 L1361.0 950.0 L1364.0 941.0 L1366.7 941.0 L1370.0 948.3 L1374.0 946.7 L1377.3 951.0 L1381.7 955.0 L1385.0 956.0 L1388.3 969.3 L1391.0 971.7 L1393.3 969.3 L1396.7 982.7 L1400.0 983.3 L1404.0 988.3 L1407.7 992.7 L1410.7 996.7 L1413.3 986.7 L1416.7 989.3 L1420.0 993.3 L1425.0 988.3 L1427.7 990.7 L1431.0 985.0 L1435.0 985.7 L1438.3 985.7 L1441.7 981.7 L1444.0 956.7 L1446.7 950.7 L1450.0 960.7 L1452.7 955.0 L1455.0 955.7 L1457.7 949.0 L1460.0 969.3 L1463.3 968.3 L1466.7 970.0 L1469.0 971.7 L1471.7 965.0 L1474.3 984.0 L1476.7 938.3 L1480.0 956.0 L1483.3 945.0 L1488.3 932.3 L1491.7 947.3 L1495.0 941.7 L1498.3 944.0 L1501.7 943.3 L1506.7 951.7 L1510.0 948.3 L1515.0 951.7 L1518.3 957.3 L1521.7 958.3 L1526.0 963.3 L1530.0 970.0 L1535.0 978.3 L1540.0 972.7 L1543.3 971.7 L1546.7 970.0 L1550.0 974.3 L1553.3 972.3 L1557.3 975.0 L1560.0 966.0 L1563.3 961.7 L1565.7 969.0 L1569.3 964.3 L1571.7 966.0 L1575.0 960.7 L1577.7 961.7 L1580.0 966.0 L1583.3 959.3 L1587.3 956.7 L1591.7 958.3 L1595.0 957.3 L1598.3 960.7 L1601.7 961.7 L1605.0 964.0 L1607.3 973.3 L1610.0 986.7 L1613.3 996.0 L1615.7 1001.7 L1618.3 994.0 L1621.0 993.3 L1624.0 982.3 L1626.7 985.0 L1630.0 979.3 L1632.3 978.3 L1635.0 958.3 L1637.7 941.7 L1640.7 943.3 L1643.3 936.0 L1646.0 951.7 L1649.0 953.3 L1651.7 951.0 L1654.3 952.3 L1657.3 958.3 L1660.7 965.0 L1663.3 955.0 L1666.0 959.3 L1668.3 953.3 L1671.7 947.3 L1674.3 946.7 L1676.7 953.3 L1679.3 951.0 L1681.7 940.7 L1685.0 946.7 L1688.3 950.0 L1690.7 952.3 L1693.3 958.3 L1696.7 956.0 L1699.3 956.0 L1701.7 958.3 L1704.3 952.7" fill="none" stroke="#c580c9" stroke-width="1.3" stroke-linejoin="round"/></g>
<rect x="50" y="843" width="1870" height="1" fill="#4a4e5c"/>
<rect x="50" y="1021" width="1870" height="1" fill="#4a4e5c"/>
<rect x="1864" y="35" width="1" height="1010" fill="#5d606b"/>
<g shape-rendering="auto">
<text class="ax" x="1872.5" y="40.6">7750</text>
<text class="ax" x="1872.5" y="73.6">7000</text>
<text class="ax" x="1872.5" y="109.6">6250</text>
<text class="ax" x="1872.5" y="140.6">5650</text>
<text class="ax" x="1872.5" y="176.6">5050</text>
<text class="ax" x="1872.5" y="216.6">4450</text>
<text class="ax" x="1872.5" y="246.6">4050</text>
<text class="ax" x="1872.5" y="279.6">3650</text>
<text class="ax" x="1872.5" y="316.6">3250</text>
<text class="ax" x="1872.5" y="346.6">2950</text>
<text class="ax" x="1872.5" y="380.6">2650</text>
<text class="ax" x="1872.5" y="418.6">2350</text>
<text class="ax" x="1872.5" y="445.6">2150</text>
<text class="ax" x="1872.5" y="477.6">1950</text>
<text class="ax" x="1872.5" y="511.6">1750</text>
<text class="ax" x="1872.5" y="542.6">1590</text>
<text class="ax" x="1872.5" y="575.6">1430</text>
<text class="ax" x="1872.5" y="603.6">1310</text>
<text class="ax" x="1872.5" y="635.6">1185</text>
<text class="ax" x="1872.5" y="663.6">1085</text>
<text class="ax" x="1872.5" y="693.6">985</text>
<text class="ax" x="1872.5" y="727.6">885</text>
<text class="ax" x="1872.5" y="757.6">805</text>
<text class="ax" x="1872.5" y="786.6">735</text>
<text class="ax" x="1872.5" y="812.6">675</text>
<text class="ax" x="1872.5" y="839.6">620</text>
<text class="ax" x="1872.5" y="860.6">100.0000</text>
<text class="ax" x="1872.5" y="896.6">80.0000</text>
<text class="ax" x="1872.5" y="932.6">60.0000</text>
<text class="ax" x="1872.5" y="968.6">40.0000</text>
<text class="ax" x="1872.5" y="1005.6">20.0000</text>
<path d="M1865 37h3v1h-3zM1865 70h3v1h-3zM1865 106h3v1h-3zM1865 137h3v1h-3zM1865 173h3v1h-3zM1865 213h3v1h-3zM1865 243h3v1h-3zM1865 276h3v1h-3zM1865 313h3v1h-3zM1865 343h3v1h-3zM1865 377h3v1h-3zM1865 415h3v1h-3zM1865 442h3v1h-3zM1865 474h3v1h-3zM1865 508h3v1h-3zM1865 539h3v1h-3zM1865 572h3v1h-3zM1865 600h3v1h-3zM1865 632h3v1h-3zM1865 660h3v1h-3zM1865 690h3v1h-3zM1865 724h3v1h-3zM1865 754h3v1h-3zM1865 783h3v1h-3zM1865 809h3v1h-3zM1865 836h3v1h-3zM1865 857h3v1h-3zM1865 893h3v1h-3zM1865 929h3v1h-3zM1865 965h3v1h-3zM1865 1002h3v1h-3z" fill="#555a6b" shape-rendering="crispEdges"/>
<rect x="1864" y="544" width="56" height="16" fill="#fff"/>
<rect x="1864" y="552" width="4" height="1" fill="#131722" shape-rendering="crispEdges"/>
<text class="ax" x="1872.5" y="555.6" style="fill:#131722;stroke:#131722;stroke-width:0.3px">1524</text>
<text class="tx" x="144.8" y="1039">Jun</text>
<text class="tx" x="247.8" y="1039">Aug</text>
<text class="tx" x="327.2" y="1039">Oct</text>
<text class="tx" x="399.5" y="1039">11</text>
<text class="tx" x="496.8" y="1039" style="font-weight:bold">2021</text>
<text class="tx" x="601.8" y="1039">Mar</text>
<text class="tx" x="702.2" y="1039">May</text>
<text class="tx" x="818.5" y="1039">Jul</text>
<text class="tx" x="915.2" y="1039">Sep</text>
<text class="tx" x="1017.2" y="1039">Nov</text>
<text class="tx" x="1136.8" y="1039" style="font-weight:bold">2022</text>
<text class="tx" x="1253.5" y="1039">Mar</text>
<text class="tx" x="1349.8" y="1039">May</text>
<text class="tx" x="1460.8" y="1039">Jul</text>
<text class="tx" x="1565.5" y="1039">Oct</text>
<text class="tx" x="1687.8" y="1039">Dec</text>
<path d="M145 1022h1v3h-1zM248 1022h1v3h-1zM328 1022h1v3h-1zM400 1022h1v3h-1zM497 1022h1v3h-1zM602 1022h1v3h-1zM703 1022h1v3h-1zM819 1022h1v3h-1zM916 1022h1v3h-1zM1018 1022h1v3h-1zM1137 1022h1v3h-1zM1254 1022h1v3h-1zM1350 1022h1v3h-1zM1461 1022h1v3h-1zM1566 1022h1v3h-1zM1688 1022h1v3h-1z" fill="#555a6b" shape-rendering="crispEdges"/>
</g>
<g shape-rendering="auto" fill="#6aa84f" style="font-family:'DejaVu Sans','Liberation Sans',sans-serif;font-weight:bold">
<text x="328" y="504.2" font-size="21" textLength="292" lengthAdjust="spacingAndGlyphs">AMOOZESH-BOORS.COM</text>
<text x="603" y="483.5" font-size="15.5" stroke="#6aa84f" stroke-width="0.5" direction="rtl" text-anchor="start" textLength="275" lengthAdjust="spacingAndGlyphs">انجـــمن خبرگـــــان بورس تـــــهران</text>
</g>
<circle cx="71.9" cy="994.4" r="14.8" fill="#fff" stroke="#e9e9ec" stroke-width="1" shape-rendering="auto"/>
</svg>
<svg id="icons" width="1920" height="1080" viewBox="0 0 1920 1080">
<path d="M23.9 12.1V18.6M23.9 25.1V31.8M13.9 21.9H20.7M27.1 21.9H34.6" stroke="#90caf9" stroke-width="1.9" fill="none"/>
<path d="M17.2 60.8 L29.8 48.2" fill="none" stroke="#2a2e39" stroke-width="1.10" stroke-linecap="round" stroke-linejoin="round" />
<rect x="14.3" y="60.5" width="3.2" height="3.2" rx="0.8" fill="#fff" stroke="#2a2e39" stroke-width="1.1"/>
<rect x="29.4" y="45.3" width="3.2" height="3.2" rx="0.8" fill="#fff" stroke="#2a2e39" stroke-width="1.1"/>
<path d="M15.9 84.4 L23.4 77.1" fill="none" stroke="#2a2e39" stroke-width="1.10" stroke-linecap="round" stroke-linejoin="round" />
<path d="M15.9 84.4 L25.9 94.1" fill="none" stroke="#2a2e39" stroke-width="1.10" stroke-linecap="round" stroke-linejoin="round" />
<path d="M15.9 94.1 L28.3 81.6" fill="none" stroke="#2a2e39" stroke-width="1.10" stroke-linecap="round" stroke-linejoin="round" />
<path d="M25.9 94.1 L33.2 86.3" fill="none" stroke="#2a2e39" stroke-width="1.10" stroke-linecap="round" stroke-linejoin="round" />
<rect x="14.3" y="82.8" width="3.2" height="3.2" rx="0.8" fill="#fff" stroke="#2a2e39" stroke-width="1.1"/>
<rect x="14.3" y="92.5" width="3.2" height="3.2" rx="0.8" fill="#fff" stroke="#2a2e39" stroke-width="1.1"/>
<rect x="24.3" y="92.5" width="3.2" height="3.2" rx="0.8" fill="#fff" stroke="#2a2e39" stroke-width="1.1"/>
<path d="M13.3 126.2 L18.8 117.9 C20.8 115.4 26.3 115.9 26.7 121.1 C26.9 124.4 22.8 126.2 19.8 126.2 Z M26.7 112.3 C25.5 113.9 26.9 117.0 29.1 116.6 L35.9 111.4" fill="none" stroke="#50535e" stroke-width="1.2" stroke-linejoin="round" stroke-linecap="round"/>
<path d="M18.0 145.4V142.4H29.8V145.4M23.9 142.4V158.6M21.3 158.6H26.5" fill="none" stroke="#6b6f7d" stroke-width="1.5"/>
<path d="M18.4 175.8 L15.9 191.0" fill="none" stroke="#2a2e39" stroke-width="1.00" stroke-linecap="round" stroke-linejoin="round" />
<path d="M18.4 175.8 L22.2 182.2" fill="none" stroke="#2a2e39" stroke-width="1.00" stroke-linecap="round" stroke-linejoin="round" />
<path d="M22.2 182.2 L15.9 191.0" fill="none" stroke="#2a2e39" stroke-width="1.00" stroke-linecap="round" stroke-linejoin="round" />
<path d="M22.2 182.2 L29.5 176.7" fill="none" stroke="#2a2e39" stroke-width="1.00" stroke-linecap="round" stroke-linejoin="round" />
<path d="M22.2 182.2 L32.0 188.4" fill="none" stroke="#2a2e39" stroke-width="1.00" stroke-linecap="round" stroke-linejoin="round" />
<path d="M29.5 176.7 L32.0 188.4" fill="none" stroke="#2a2e39" stroke-width="1.00" stroke-linecap="round" stroke-linejoin="round" />
<circle cx="18.4" cy="175.8" r="1.9" fill="#fff" stroke="#2a2e39" stroke-width="1.1"/>
<circle cx="29.5" cy="176.7" r="1.9" fill="#fff" stroke="#2a2e39" stroke-width="1.1"/>
<circle cx="22.2" cy="182.2" r="1.9" fill="#fff" stroke="#2a2e39" stroke-width="1.1"/>
<circle cx="15.9" cy="191.0" r="1.9" fill="#fff" stroke="#2a2e39" stroke-width="1.1"/>
<circle cx="32.0" cy="188.4" r="1.9" fill="#fff" stroke="#2a2e39" stroke-width="1.1"/>
<path d="M16.5 207.9H34.1M16.5 223.9H34.1" stroke="#8b8e99" stroke-width="1.6" fill="none"/><path d="M16.5 217.6H32.0" stroke="#2a2e39" stroke-width="1.3" fill="none"/><path d="M23.8 211.4V220.5" stroke="#2a2e39" stroke-width="1.2" fill="none"/><path d="M23.8 210.1l2 2.6h-4zM23.8 221.7l2 -2.6h-4z" fill="#2a2e39"/><circle cx="15.0" cy="207.9" r="1.8" fill="#fff" stroke="#2a2e39" stroke-width="1.1"/><circle cx="15.0" cy="217.6" r="1.8" fill="#fff" stroke="#2a2e39" stroke-width="1.1"/><circle cx="33.4" cy="217.6" r="1.8" fill="#fff" stroke="#2a2e39" stroke-width="1.1"/><circle cx="15.0" cy="223.9" r="1.8" fill="#fff" stroke="#2a2e39" stroke-width="1.1"/>
<path d="M23.4 240V251.5M16.9 245.9L23.4 252.6L29.9 245.9" fill="none" stroke="#131722" stroke-width="3" stroke-linejoin="miter"/>
<g transform="translate(23.6 291.3) rotate(-42)"><rect x="-11.8" y="-2.8" width="23.6" height="5.6" rx="1.2" fill="none" stroke="#2a2e39" stroke-width="1.2"/><path d="M-7.5 -2.8v2.6M-3.7 -2.8v2.6M0 -2.8v2.6M3.7 -2.8v2.6M7.5 -2.8v2.6" stroke="#2a2e39" stroke-width="1" fill="none"/></g>
<circle cx="22.1" cy="322" r="7.3" fill="none" stroke="#2a2e39" stroke-width="1.2"/><path d="M19.2 322H25M22.1 319.1V324.9M27.5 327.4L30.6 330.5" stroke="#2a2e39" stroke-width="1.2" fill="none"/>
<path d="M16.3 375.2V366A7.5 7.5 0 0 1 31.3 366V375.2H26.9V366A3.1 3.1 0 0 0 20.7 366V375.2ZM16.3 371.5H20.7M26.9 371.5H31.3" fill="none" stroke="#2a2e39" stroke-width="1.2" stroke-linejoin="round"/>
<g transform="translate(19.8 396.3) rotate(-45)"><path d="M-8.8 0L-5.8 -2.6H7.2A1.3 1.3 0 0 1 8.5 -1.3V1.3A1.3 1.3 0 0 1 7.2 2.6H-5.8ZM5.6 -2.6V2.6M-5.8 -0.3H5.6" fill="none" stroke="#2a2e39" stroke-width="1" stroke-linejoin="round"/></g>
<rect x="24.2" y="402.8" width="8.3" height="5.6" rx="1" fill="#fff" stroke="#2a2e39" stroke-width="1.1"/><path d="M26.3 402.8V401A2.1 2.1 0 0 1 30.5 401" fill="none" stroke="#2a2e39" stroke-width="1.1"/><rect x="27.9" y="404.6" width="1" height="2" fill="#2a2e39"/>
<rect x="16.3" y="429.7" width="14.4" height="10.6" rx="1.6" fill="none" stroke="#2a2e39" stroke-width="1.2"/><path d="M18.6 429.7V426.6A4.1 4.1 0 0 1 26.8 426.6" fill="none" stroke="#2a2e39" stroke-width="1.2"/><rect x="22.8" y="434" width="1.3" height="3.4" rx="0.6" fill="#2a2e39"/>
<path d="M14.6 463.8C17.5 459.2 20.5 457.5 23.5 457.5S29.5 459.2 32.5 463.8C29.5 468.4 26.5 470.1 23.5 470.1S17.5 468.4 14.6 463.8Z" fill="none" stroke="#2a2e39" stroke-width="1.2"/><circle cx="23.5" cy="463.8" r="2.5" fill="#131722"/>
<path d="M16.8 501.6H29M20.8 501.6V500.4H25V501.6M17.8 501.9L18.5 514.6A1.6 1.6 0 0 0 20 516H25.8A1.6 1.6 0 0 0 27.3 514.6L28 501.9M21.1 504.5V513.8M22.9 504.5V513.8M24.7 504.5V513.8" fill="none" stroke="#2a2e39" stroke-width="1.1"/>
<path d="M23.1 1005.6 L25.5 1011.0 L31.3 1011.5 L26.9 1015.4 L28.2 1021.2 L23.1 1018.2 L18.0 1021.2 L19.3 1015.4 L14.9 1011.5 L20.7 1011.0Z" fill="none" stroke="#fff" stroke-width="1.2" stroke-linejoin="round"/>
<path d="M45.6 1013.5Q44.2 1015.8 45.6 1018.2" fill="none" stroke="#9fa3ae" stroke-width="0.9"/>
<path d="M23.4 1036.4L31.7 1042.7L23.4 1049L15.1 1042.7ZM16.7 1046.3L23.4 1051.5L30.1 1046.3M16.7 1048.9L23.4 1054.1L30.1 1048.9" fill="none" stroke="#2a2e39" stroke-width="1.1" stroke-linejoin="miter"/>
<path d="M65 999.7A3.6 3.6 0 0 1 64.2 992.6A4.3 4.3 0 0 1 69.6 990.2A4.9 4.9 0 0 1 77.6 992.4A3.8 3.8 0 0 1 78.6 999.7Z" fill="#35a2ea"/>
<path d="M62.6 997.6L68.3 992.8L73.3 997.3L77.5 992.8" fill="none" stroke="#fff" stroke-width="1.1" stroke-linejoin="round"/>
<path d="M145.1 15.2 L148.6 18.3 L152.1 15.2" fill="none" stroke="#2a2e39" stroke-width="1.30" stroke-linecap="round" stroke-linejoin="round" />
<path d="M222.1 15.2 L225.6 18.3 L229.1 15.2" fill="none" stroke="#2a2e39" stroke-width="1.30" stroke-linecap="round" stroke-linejoin="round" />
<path d="M171.3 7.1V10.3M171.3 22.5V25.7M178.5 10.3V13.4M178.5 19.6V22.7" stroke="#42a5f5" stroke-width="1.2" fill="none"/><rect x="169.2" y="10.3" width="4.3" height="12.2" fill="none" stroke="#42a5f5" stroke-width="1.2"/><rect x="176.4" y="13.4" width="4.2" height="6.2" fill="none" stroke="#42a5f5" stroke-width="1.2"/>
<path d="M192.5 19.3 L195.9 16.2 L198.6 18.4 L203.3 14.4 L206.0 14.4 L209.7 10.2" fill="none" stroke="#2a2e39" stroke-width="1.20" stroke-linecap="round" stroke-linejoin="round" />
<circle cx="251" cy="16.9" r="8.4" fill="none" stroke="#2a2e39" stroke-width="1.2"/><path d="M247.3 16.9H254.7M251 13.2V20.6" stroke="#2a2e39" stroke-width="1.2" fill="none"/>
<path d="M333.1 15.9L337.3 12Q338.3 11 339.3 12L343.9 16.2L349 11.8" fill="none" stroke="#2a2e39" stroke-width="1.2" stroke-linejoin="round"/><path d="M344.2 22.3H352.4M348.3 18.2V26.4" stroke="#2a2e39" stroke-width="1.2" fill="none"/>
<path d="M430.3 12.5L434 9.3Q435 8.4 436 9.3L440.4 12.6L445.8 8.5" fill="none" stroke="#2a2e39" stroke-width="1.2" stroke-linejoin="round"/>
<path d="M430.3 17.3L434 14.1Q435 13.2 436 14.1L440.4 17.4L445.8 13.3" fill="none" stroke="#2a2e39" stroke-width="1.2" stroke-linejoin="round"/>
<path d="M429.9 24V25.7M432.6 22.3V25.7M435.3 20.3V25.7M438 22V25.7" stroke="#6a6d78" stroke-width="1.1" fill="none"/><path d="M440.6 22.3H448M444.3 18.6V26" stroke="#2a2e39" stroke-width="1.2" fill="none"/>
<path d="M532.9 12.2L529.5 15.4L532.9 18.4M529.5 15.4H535.5Q540.3 15.6 540.7 20.6" fill="none" stroke="#2a2e39" stroke-width="1.25" stroke-linecap="round" stroke-linejoin="round"/>
<path d="M562.3 12.2L565.7 15.4L562.3 18.4M565.7 15.4H559.4Q554.6 15.6 554.2 20.6" fill="none" stroke="#c9ccd4" stroke-width="1.25" stroke-linecap="round" stroke-linejoin="round"/>
<path d="M585.0 8.1 L590.2 8.1 L585.0 13.3Z" fill="#434651"/><path d="M586.5 9.6L590.6 13.7" stroke="#434651" stroke-width="2" fill="none"/>
<path d="M601.0 8.1 L595.8 8.1 L601.0 13.3Z" fill="#434651"/><path d="M599.5 9.6L595.4 13.7" stroke="#434651" stroke-width="2" fill="none"/>
<path d="M585.0 23.8 L590.2 23.8 L585.0 18.6Z" fill="#434651"/><path d="M586.5 22.3L590.6 18.2" stroke="#434651" stroke-width="2" fill="none"/>
<path d="M601.0 23.8 L595.8 23.8 L601.0 18.6Z" fill="#434651"/><path d="M599.5 22.3L595.4 18.2" stroke="#434651" stroke-width="2" fill="none"/>
<path d="M628.1 14.2 L633.4 21.0 L638.8 14.2" fill="none" stroke="#2a2e39" stroke-width="1.30" stroke-linecap="round" stroke-linejoin="round" />
<path d="M873.3 14.2 L878.6 21.0 L884.0 14.2" fill="none" stroke="#2a2e39" stroke-width="1.30" stroke-linecap="round" stroke-linejoin="round" />
<path d="M981 16C984.5 11.6 988 10 991 10S997.5 11.6 1001 16C997.5 20.4 994 22 991 22S984.5 20.4 981 16Z" fill="none" stroke="#2a2e39" stroke-width="1.2"/><circle cx="991" cy="16" r="2.6" fill="none" stroke="#2a2e39" stroke-width="1.1"/>
<path d="M1796.7 10.2 L1797.1 7.7 L1799.7 7.7 L1800.1 10.2 L1801.7 10.9 L1803.7 9.4 L1805.6 11.3 L1804.1 13.3 L1804.8 14.9 L1807.3 15.3 L1807.3 17.9 L1804.8 18.3 L1804.1 19.9 L1805.6 21.9 L1803.7 23.8 L1801.7 22.3 L1800.1 23.0 L1799.7 25.5 L1797.1 25.5 L1796.7 23.0 L1795.1 22.3 L1793.1 23.8 L1791.2 21.9 L1792.7 19.9 L1792.0 18.3 L1789.5 17.9 L1789.5 15.3 L1792.0 14.9 L1792.7 13.3 L1791.2 11.3 L1793.1 9.4 L1795.1 10.9Z" fill="none" stroke="#2a2e39" stroke-width="1" stroke-linejoin="round"/><circle cx="1798.4" cy="16.6" r="2.2" fill="none" stroke="#2a2e39" stroke-width="1"/>
<path d="M1840.0 11.7 L1830.1 16.9 L1840.0 22.2" fill="none" stroke="#2a2e39" stroke-width="0.90" stroke-linecap="round" stroke-linejoin="round" />
<circle cx="1830.1" cy="16.9" r="2.6" fill="#fff" stroke="#2a2e39" stroke-width="0.9"/>
<circle cx="1840.0" cy="11.7" r="2.6" fill="#fff" stroke="#2a2e39" stroke-width="0.9"/>
<circle cx="1840.0" cy="22.2" r="2.6" fill="#fff" stroke="#2a2e39" stroke-width="0.9"/>
<path d="M1862 11.7L1871.5 12.4L1873.7 9.5L1875.5 11.7L1876.9 23L1871.9 24.1L1865.3 23.7L1861 22.2ZM1862 11.7L1865.3 23.7M1871.5 12.4L1875.5 11.7" fill="none" stroke="#2a2e39" stroke-width="0.8" stroke-linejoin="round"/>
<path d="M1897 10.2H1909V11.8H1897ZM1900.3 9.1H1905.6V10.2H1900.3ZM1898.2 13.1H1908V23.7H1898.2Z" fill="#4a4e5c"/>
<path d="M63.0 70.8 L66.3 73.8 L69.6 70.8" fill="none" stroke="#2a2e39" stroke-width="1.30" stroke-linecap="round" stroke-linejoin="round" />
<path d="M63.0 855.8 L66.3 858.8 L69.6 855.8" fill="none" stroke="#2a2e39" stroke-width="1.30" stroke-linecap="round" stroke-linejoin="round" />
<circle cx="1891.3" cy="1033.8" r="4.6" fill="none" stroke="#2a2e39" stroke-width="1.2"/>
<path d="M1895.7 1035.6L1897.4 1036.3M1893.1 1038.2L1893.8 1039.9M1889.5 1038.2L1888.8 1039.9M1886.9 1035.6L1885.2 1036.3M1886.9 1032.0L1885.2 1031.3M1889.5 1029.4L1888.8 1027.7M1893.1 1029.4L1893.8 1027.7M1895.7 1032.0L1897.4 1031.3" stroke="#2a2e39" stroke-width="1.6" fill="none"/>
<path d="M384 1057.5h1.2M387.2 1057.5h1.2" stroke="#d6d9e0" stroke-width="1" fill="none"/>
<path d="M384 1062.0h1.2M387.2 1062.0h1.2" stroke="#d6d9e0" stroke-width="1" fill="none"/>
<path d="M384 1066.5h1.2M387.2 1066.5h1.2" stroke="#d6d9e0" stroke-width="1" fill="none"/>
<rect x="403.2" y="1053.8" width="14.9" height="15.4" fill="none" stroke="#6a6d78" stroke-width="1.7"/>
<circle cx="403.2" cy="1053.8" r="1.9" fill="#fff" stroke="#2a2e39" stroke-width="1.1"/>
<circle cx="418.1" cy="1053.8" r="1.9" fill="#fff" stroke="#2a2e39" stroke-width="1.1"/>
<circle cx="403.2" cy="1069.2" r="1.9" fill="#fff" stroke="#2a2e39" stroke-width="1.1"/>
<circle cx="418.1" cy="1069.2" r="1.9" fill="#fff" stroke="#2a2e39" stroke-width="1.1"/>
<path d="M435.3 1053.2H455M435.3 1063.5H455" stroke="#6a6d78" stroke-width="1" fill="none"/>
<path d="M435.3 1058.4H452.6M438.2 1069.2H455" stroke="#6a6d78" stroke-width="1.7" fill="none"/>
<circle cx="454.7" cy="1058.4" r="1.9" fill="#fff" stroke="#2a2e39" stroke-width="1.1"/>
<circle cx="436.2" cy="1069.2" r="1.9" fill="#fff" stroke="#2a2e39" stroke-width="1.1"/>
<path d="M475.1 1057.6V1054.6H486.9V1057.6M481.0 1054.6V1069.6M478.4 1069.6H483.6" fill="none" stroke="#7b7e89" stroke-width="1.5"/>
<path d="M507.0 1057.2 L519.5 1052.9" fill="none" stroke="#6a6d78" stroke-width="1.10" stroke-linecap="round" stroke-linejoin="round" />
<path d="M508.4 1063.5H525.5" stroke="#6a6d78" stroke-width="1.7" fill="none"/><path d="M506.6 1067.2H525.5M506.6 1070.6H525.5" stroke="#6a6d78" stroke-width="1" fill="none"/>
<circle cx="507.0" cy="1057.2" r="1.9" fill="#fff" stroke="#2a2e39" stroke-width="1.1"/>
<circle cx="519.5" cy="1052.9" r="1.9" fill="#fff" stroke="#2a2e39" stroke-width="1.1"/>
<circle cx="507.0" cy="1063.5" r="1.9" fill="#fff" stroke="#2a2e39" stroke-width="1.1"/>
<path d="M542.7 1069.2 L558.2 1053.8" fill="none" stroke="#2a2e39" stroke-width="1.20" stroke-linecap="round" stroke-linejoin="round" />
<circle cx="542.7" cy="1069.2" r="1.9" fill="#fff" stroke="#2a2e39" stroke-width="1.1"/>
<circle cx="558.2" cy="1053.8" r="1.9" fill="#fff" stroke="#2a2e39" stroke-width="1.1"/>
<path d="M578.5 1069.2L582 1064H593.2A1.6 1.6 0 0 0 594.8 1062.4V1054.5A1.6 1.6 0 0 0 593.2 1052.9H580.4A1.6 1.6 0 0 0 578.8 1054.5V1069" fill="none" stroke="#6a6d78" stroke-width="1.7" stroke-linejoin="round"/>
<circle cx="578.5" cy="1069.2" r="1.9" fill="#fff" stroke="#2a2e39" stroke-width="1.1"/>
<path d="M611.5 1062H630.4" stroke="#6a6d78" stroke-width="1.7" fill="none"/>
<circle cx="620.9" cy="1062.0" r="1.9" fill="#fff" stroke="#2a2e39" stroke-width="1.1"/>
<path d="M646.4 1062H665.3M655.8 1052.4V1071.5" stroke="#6a6d78" stroke-width="1.7" fill="none"/>
<circle cx="655.8" cy="1062.0" r="1.9" fill="#fff" stroke="#2a2e39" stroke-width="1.1"/>
<path d="M682.8 1067.5 L696.6 1054.1" fill="none" stroke="#2a2e39" stroke-width="1.20" stroke-linecap="round" stroke-linejoin="round" />
<path d="M688.8 1071.4 L700.0 1060.6" fill="none" stroke="#2a2e39" stroke-width="1.20" stroke-linecap="round" stroke-linejoin="round" />
<circle cx="683.7" cy="1066.6" r="1.9" fill="#fff" stroke="#2a2e39" stroke-width="1.1"/>
<circle cx="695.4" cy="1055.1" r="1.9" fill="#fff" stroke="#2a2e39" stroke-width="1.1"/>
<circle cx="694.5" cy="1065.8" r="1.9" fill="#fff" stroke="#2a2e39" stroke-width="1.1"/>
<path d="M718.0 1069.2 L733.5 1053.8" fill="none" stroke="#2a2e39" stroke-width="1.20" stroke-linecap="round" stroke-linejoin="round" />
<path d="M731.6 1055.7L730.6 1061.8L725.6 1056.7Z" fill="#2a2e39"/>
<circle cx="718.0" cy="1069.2" r="1.9" fill="#fff" stroke="#2a2e39" stroke-width="1.1"/>
<circle cx="733.5" cy="1053.8" r="1.9" fill="#fff" stroke="#2a2e39" stroke-width="1.1"/>
<path d="M753.8 1062H769.6" stroke="#6a6d78" stroke-width="1.7" fill="none"/>
<circle cx="753.8" cy="1062.0" r="1.9" fill="#fff" stroke="#2a2e39" stroke-width="1.1"/>
<rect x="787.3" y="1052.9" width="16.7" height="17.1" fill="none" stroke="#6a6d78" stroke-width="1.7"/>
<path d="M795 1057V1070M787.3 1062H800.5" stroke="#6a6d78" stroke-width="1.4" fill="none"/>
<path d="M795 1055.2l2 2.6h-4zM802.6 1062l-2.6 2v-4z" fill="#2a2e39"/>
<circle cx="804.0" cy="1052.9" r="1.9" fill="#fff" stroke="#2a2e39" stroke-width="1.1"/>
<circle cx="787.1" cy="1070.0" r="1.9" fill="#fff" stroke="#2a2e39" stroke-width="1.1"/>
<path d="M821.2 1066.6 L827.2 1060.6 L834.1 1066.6 L840.1 1060.6" fill="none" stroke="#2a2e39" stroke-width="1.10" stroke-linecap="round" stroke-linejoin="round" /><circle cx="821.2" cy="1066.6" r="1.9" fill="#fff" stroke="#2a2e39" stroke-width="1.1"/><circle cx="827.2" cy="1060.6" r="1.9" fill="#fff" stroke="#2a2e39" stroke-width="1.1"/><circle cx="834.1" cy="1066.6" r="1.9" fill="#fff" stroke="#2a2e39" stroke-width="1.1"/><circle cx="840.1" cy="1060.6" r="1.9" fill="#fff" stroke="#2a2e39" stroke-width="1.1"/><text x="827.2" y="1056" font-size="7.5" font-weight="bold" text-anchor="middle" fill="#50535e" font-family="Liberation Sans,sans-serif">1</text><text x="840.6" y="1056" font-size="7.5" font-weight="bold" text-anchor="middle" fill="#50535e" font-family="Liberation Sans,sans-serif">5</text>
<path d="M856.1 1066.6 L862.4 1060.6 L869.0 1066.6 L875.0 1060.6" fill="none" stroke="#2a2e39" stroke-width="1.10" stroke-linecap="round" stroke-linejoin="round" /><circle cx="856.1" cy="1066.6" r="1.9" fill="#fff" stroke="#2a2e39" stroke-width="1.1"/><circle cx="862.4" cy="1060.6" r="1.9" fill="#fff" stroke="#2a2e39" stroke-width="1.1"/><circle cx="869.0" cy="1066.6" r="1.9" fill="#fff" stroke="#2a2e39" stroke-width="1.1"/><circle cx="875.0" cy="1060.6" r="1.9" fill="#fff" stroke="#2a2e39" stroke-width="1.1"/><text x="862.4" y="1056" font-size="7.5" font-weight="bold" text-anchor="middle" fill="#50535e" font-family="Liberation Sans,sans-serif">A</text><text x="875.5" y="1056" font-size="7.5" font-weight="bold" text-anchor="middle" fill="#50535e" font-family="Liberation Sans,sans-serif">C</text>
<path d="M891.1 1066.6 L897.7 1060.6 L904.0 1066.6 L910.0 1060.6" fill="none" stroke="#2a2e39" stroke-width="1.10" stroke-linecap="round" stroke-linejoin="round" /><circle cx="891.1" cy="1066.6" r="1.9" fill="#fff" stroke="#2a2e39" stroke-width="1.1"/><circle cx="897.7" cy="1060.6" r="1.9" fill="#fff" stroke="#2a2e39" stroke-width="1.1"/><circle cx="904.0" cy="1066.6" r="1.9" fill="#fff" stroke="#2a2e39" stroke-width="1.1"/><circle cx="910.0" cy="1060.6" r="1.9" fill="#fff" stroke="#2a2e39" stroke-width="1.1"/><text x="897.7" y="1056" font-size="7.5" font-weight="bold" text-anchor="middle" fill="#50535e" font-family="Liberation Sans,sans-serif">A</text><text x="910.5" y="1056" font-size="7.5" font-weight="bold" text-anchor="middle" fill="#50535e" font-family="Liberation Sans,sans-serif">E</text>
<path d="M928.7 1053.8H946.1M928.7 1069.6H946.1" stroke="#8b8e99" stroke-width="1.6" fill="none"/><path d="M928.7 1063.4H944.0" stroke="#2a2e39" stroke-width="1.3" fill="none"/><path d="M935.9 1057.3V1066.3" stroke="#2a2e39" stroke-width="1.2" fill="none"/><path d="M935.9 1056.0l2 2.6h-4zM935.9 1067.5l2 -2.6h-4z" fill="#2a2e39"/><circle cx="927.2" cy="1053.8" r="1.8" fill="#fff" stroke="#2a2e39" stroke-width="1.1"/><circle cx="927.2" cy="1063.4" r="1.8" fill="#fff" stroke="#2a2e39" stroke-width="1.1"/><circle cx="945.4" cy="1063.4" r="1.8" fill="#fff" stroke="#2a2e39" stroke-width="1.1"/><circle cx="927.2" cy="1069.6" r="1.8" fill="#fff" stroke="#2a2e39" stroke-width="1.1"/>
<path d="M960.4 1069.4 L965.9 1061.1 C967.9 1058.6 973.4 1059.1 973.8 1064.3 C974.0 1067.6 969.9 1069.4 966.9 1069.4 Z M973.8 1055.5 C972.6 1057.1 974.0 1060.2 976.2 1059.8 L983.0 1054.6" fill="none" stroke="#50535e" stroke-width="1.2" stroke-linejoin="round" stroke-linecap="round"/>
<path d="M1006.0 1054.0 L1013.1 1054.0 L1013.1 1062.1 L1006.0 1062.1 L1006.0 1069.2 L998.8 1069.2 L998.8 1060.1Z" fill="none" stroke="#858893" stroke-width="1.5"/>
<circle cx="1006.0" cy="1054.0" r="1.9" fill="#fff" stroke="#2a2e39" stroke-width="1.1"/>
<circle cx="1013.1" cy="1054.0" r="1.9" fill="#fff" stroke="#2a2e39" stroke-width="1.1"/>
<circle cx="1013.1" cy="1062.1" r="1.9" fill="#fff" stroke="#2a2e39" stroke-width="1.1"/>
<circle cx="1006.0" cy="1062.1" r="1.9" fill="#fff" stroke="#2a2e39" stroke-width="1.1"/>
<circle cx="1006.0" cy="1069.2" r="1.9" fill="#fff" stroke="#2a2e39" stroke-width="1.1"/>
<circle cx="998.8" cy="1069.2" r="1.9" fill="#fff" stroke="#2a2e39" stroke-width="1.1"/>
<circle cx="998.8" cy="1060.1" r="1.9" fill="#fff" stroke="#2a2e39" stroke-width="1.1"/>
</svg>
</div></body></html>
